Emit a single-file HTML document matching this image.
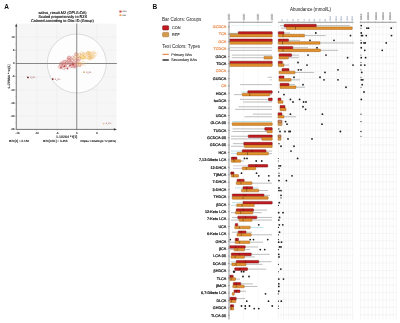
<!DOCTYPE html>
<html><head><meta charset="utf-8"><style>
html,body{margin:0;padding:0;background:#fff;width:400px;height:323px;overflow:hidden}
svg{display:block;will-change:transform;text-rendering:geometricPrecision;filter:blur(0.3px)}
</style></head><body>
<svg width='400' height='323' viewBox='0 0 400 323' font-family="'Liberation Sans', sans-serif">
<rect width='400' height='323' fill='#fff'/>
<line x1='278.25' y1='22.25' x2='278.25' y2='319.5' stroke='#e9e9e9' stroke-width='0.5'/><line x1='280.90' y1='22.25' x2='280.90' y2='319.5' stroke='#f2f2f2' stroke-width='0.5'/><line x1='283.55' y1='22.25' x2='283.55' y2='319.5' stroke='#e9e9e9' stroke-width='0.5'/><line x1='286.20' y1='22.25' x2='286.20' y2='319.5' stroke='#f2f2f2' stroke-width='0.5'/><line x1='288.85' y1='22.25' x2='288.85' y2='319.5' stroke='#e9e9e9' stroke-width='0.5'/><line x1='291.50' y1='22.25' x2='291.50' y2='319.5' stroke='#f2f2f2' stroke-width='0.5'/><line x1='294.15' y1='22.25' x2='294.15' y2='319.5' stroke='#e9e9e9' stroke-width='0.5'/><line x1='296.80' y1='22.25' x2='296.80' y2='319.5' stroke='#f2f2f2' stroke-width='0.5'/><line x1='299.45' y1='22.25' x2='299.45' y2='319.5' stroke='#e9e9e9' stroke-width='0.5'/><line x1='302.10' y1='22.25' x2='302.10' y2='319.5' stroke='#f2f2f2' stroke-width='0.5'/><line x1='304.75' y1='22.25' x2='304.75' y2='319.5' stroke='#e9e9e9' stroke-width='0.5'/><line x1='307.40' y1='22.25' x2='307.40' y2='319.5' stroke='#f2f2f2' stroke-width='0.5'/><line x1='310.05' y1='22.25' x2='310.05' y2='319.5' stroke='#e9e9e9' stroke-width='0.5'/><line x1='312.70' y1='22.25' x2='312.70' y2='319.5' stroke='#f2f2f2' stroke-width='0.5'/><line x1='315.35' y1='22.25' x2='315.35' y2='319.5' stroke='#e9e9e9' stroke-width='0.5'/><line x1='318.00' y1='22.25' x2='318.00' y2='319.5' stroke='#f2f2f2' stroke-width='0.5'/><line x1='320.65' y1='22.25' x2='320.65' y2='319.5' stroke='#e9e9e9' stroke-width='0.5'/><line x1='323.30' y1='22.25' x2='323.30' y2='319.5' stroke='#f2f2f2' stroke-width='0.5'/><line x1='325.95' y1='22.25' x2='325.95' y2='319.5' stroke='#e9e9e9' stroke-width='0.5'/><line x1='328.60' y1='22.25' x2='328.60' y2='319.5' stroke='#f2f2f2' stroke-width='0.5'/><line x1='331.25' y1='22.25' x2='331.25' y2='319.5' stroke='#e9e9e9' stroke-width='0.5'/><line x1='333.90' y1='22.25' x2='333.90' y2='319.5' stroke='#f2f2f2' stroke-width='0.5'/><line x1='336.55' y1='22.25' x2='336.55' y2='319.5' stroke='#e9e9e9' stroke-width='0.5'/><line x1='339.20' y1='22.25' x2='339.20' y2='319.5' stroke='#f2f2f2' stroke-width='0.5'/><line x1='341.85' y1='22.25' x2='341.85' y2='319.5' stroke='#e9e9e9' stroke-width='0.5'/><line x1='344.50' y1='22.25' x2='344.50' y2='319.5' stroke='#f2f2f2' stroke-width='0.5'/><line x1='347.15' y1='22.25' x2='347.15' y2='319.5' stroke='#e9e9e9' stroke-width='0.5'/><line x1='349.80' y1='22.25' x2='349.80' y2='319.5' stroke='#f2f2f2' stroke-width='0.5'/><line x1='352.45' y1='22.25' x2='352.45' y2='319.5' stroke='#e9e9e9' stroke-width='0.5'/><line x1='360.6' y1='22.25' x2='360.6' y2='319.5' stroke='#ececec' stroke-width='0.5'/><line x1='364.35' y1='22.25' x2='364.35' y2='319.5' stroke='#ececec' stroke-width='0.5'/><line x1='368.1' y1='22.25' x2='368.1' y2='319.5' stroke='#ececec' stroke-width='0.5'/><line x1='371.85' y1='22.25' x2='371.85' y2='319.5' stroke='#ececec' stroke-width='0.5'/><line x1='375.6' y1='22.25' x2='375.6' y2='319.5' stroke='#ececec' stroke-width='0.5'/><line x1='379.2' y1='22.25' x2='379.2' y2='319.5' stroke='#ececec' stroke-width='0.5'/><line x1='382.75' y1='22.25' x2='382.75' y2='319.5' stroke='#ececec' stroke-width='0.5'/><line x1='386.4' y1='22.25' x2='386.4' y2='319.5' stroke='#ececec' stroke-width='0.5'/><line x1='390' y1='22.25' x2='390' y2='319.5' stroke='#ececec' stroke-width='0.5'/><line x1='393.3' y1='22.25' x2='393.3' y2='319.5' stroke='#ececec' stroke-width='0.5'/><line x1='396.5' y1='22.25' x2='396.5' y2='319.5' stroke='#ececec' stroke-width='0.5'/><line x1='243.5' y1='22.25' x2='243.5' y2='319.5' stroke='#f1f1f1' stroke-width='0.5'/><line x1='257.9' y1='22.25' x2='257.9' y2='319.5' stroke='#f1f1f1' stroke-width='0.5'/><line x1='278.25' y1='26.90' x2='353.5' y2='26.90' stroke='#ececec' stroke-width='0.5'/><line x1='359.75' y1='26.90' x2='396.5' y2='26.90' stroke='#ececec' stroke-width='0.5'/><line x1='278.25' y1='34.28' x2='353.5' y2='34.28' stroke='#ececec' stroke-width='0.5'/><line x1='359.75' y1='34.28' x2='396.5' y2='34.28' stroke='#ececec' stroke-width='0.5'/><line x1='278.25' y1='41.66' x2='353.5' y2='41.66' stroke='#ececec' stroke-width='0.5'/><line x1='359.75' y1='41.66' x2='396.5' y2='41.66' stroke='#ececec' stroke-width='0.5'/><line x1='278.25' y1='49.04' x2='353.5' y2='49.04' stroke='#ececec' stroke-width='0.5'/><line x1='359.75' y1='49.04' x2='396.5' y2='49.04' stroke='#ececec' stroke-width='0.5'/><line x1='278.25' y1='56.42' x2='353.5' y2='56.42' stroke='#ececec' stroke-width='0.5'/><line x1='359.75' y1='56.42' x2='396.5' y2='56.42' stroke='#ececec' stroke-width='0.5'/><line x1='278.25' y1='63.79' x2='353.5' y2='63.79' stroke='#ececec' stroke-width='0.5'/><line x1='359.75' y1='63.79' x2='396.5' y2='63.79' stroke='#ececec' stroke-width='0.5'/><line x1='278.25' y1='71.17' x2='353.5' y2='71.17' stroke='#ececec' stroke-width='0.5'/><line x1='359.75' y1='71.17' x2='396.5' y2='71.17' stroke='#ececec' stroke-width='0.5'/><line x1='278.25' y1='78.55' x2='353.5' y2='78.55' stroke='#ececec' stroke-width='0.5'/><line x1='359.75' y1='78.55' x2='396.5' y2='78.55' stroke='#ececec' stroke-width='0.5'/><line x1='278.25' y1='85.93' x2='353.5' y2='85.93' stroke='#ececec' stroke-width='0.5'/><line x1='359.75' y1='85.93' x2='396.5' y2='85.93' stroke='#ececec' stroke-width='0.5'/><line x1='278.25' y1='93.31' x2='353.5' y2='93.31' stroke='#ececec' stroke-width='0.5'/><line x1='359.75' y1='93.31' x2='396.5' y2='93.31' stroke='#ececec' stroke-width='0.5'/><line x1='278.25' y1='100.69' x2='353.5' y2='100.69' stroke='#ececec' stroke-width='0.5'/><line x1='359.75' y1='100.69' x2='396.5' y2='100.69' stroke='#ececec' stroke-width='0.5'/><line x1='278.25' y1='108.07' x2='353.5' y2='108.07' stroke='#ececec' stroke-width='0.5'/><line x1='359.75' y1='108.07' x2='396.5' y2='108.07' stroke='#ececec' stroke-width='0.5'/><line x1='278.25' y1='115.45' x2='353.5' y2='115.45' stroke='#ececec' stroke-width='0.5'/><line x1='359.75' y1='115.45' x2='396.5' y2='115.45' stroke='#ececec' stroke-width='0.5'/><line x1='278.25' y1='122.83' x2='353.5' y2='122.83' stroke='#ececec' stroke-width='0.5'/><line x1='359.75' y1='122.83' x2='396.5' y2='122.83' stroke='#ececec' stroke-width='0.5'/><line x1='278.25' y1='130.21' x2='353.5' y2='130.21' stroke='#ececec' stroke-width='0.5'/><line x1='359.75' y1='130.21' x2='396.5' y2='130.21' stroke='#ececec' stroke-width='0.5'/><line x1='278.25' y1='137.58' x2='353.5' y2='137.58' stroke='#ececec' stroke-width='0.5'/><line x1='359.75' y1='137.58' x2='396.5' y2='137.58' stroke='#ececec' stroke-width='0.5'/><line x1='278.25' y1='144.96' x2='353.5' y2='144.96' stroke='#ececec' stroke-width='0.5'/><line x1='359.75' y1='144.96' x2='396.5' y2='144.96' stroke='#ececec' stroke-width='0.5'/><line x1='278.25' y1='152.34' x2='353.5' y2='152.34' stroke='#ececec' stroke-width='0.5'/><line x1='359.75' y1='152.34' x2='396.5' y2='152.34' stroke='#ececec' stroke-width='0.5'/><line x1='278.25' y1='159.72' x2='353.5' y2='159.72' stroke='#ececec' stroke-width='0.5'/><line x1='359.75' y1='159.72' x2='396.5' y2='159.72' stroke='#ececec' stroke-width='0.5'/><line x1='278.25' y1='167.10' x2='353.5' y2='167.10' stroke='#ececec' stroke-width='0.5'/><line x1='359.75' y1='167.10' x2='396.5' y2='167.10' stroke='#ececec' stroke-width='0.5'/><line x1='278.25' y1='174.48' x2='353.5' y2='174.48' stroke='#ececec' stroke-width='0.5'/><line x1='359.75' y1='174.48' x2='396.5' y2='174.48' stroke='#ececec' stroke-width='0.5'/><line x1='278.25' y1='181.86' x2='353.5' y2='181.86' stroke='#ececec' stroke-width='0.5'/><line x1='359.75' y1='181.86' x2='396.5' y2='181.86' stroke='#ececec' stroke-width='0.5'/><line x1='278.25' y1='189.24' x2='353.5' y2='189.24' stroke='#ececec' stroke-width='0.5'/><line x1='359.75' y1='189.24' x2='396.5' y2='189.24' stroke='#ececec' stroke-width='0.5'/><line x1='278.25' y1='196.62' x2='353.5' y2='196.62' stroke='#ececec' stroke-width='0.5'/><line x1='359.75' y1='196.62' x2='396.5' y2='196.62' stroke='#ececec' stroke-width='0.5'/><line x1='278.25' y1='204.00' x2='353.5' y2='204.00' stroke='#ececec' stroke-width='0.5'/><line x1='359.75' y1='204.00' x2='396.5' y2='204.00' stroke='#ececec' stroke-width='0.5'/><line x1='278.25' y1='211.38' x2='353.5' y2='211.38' stroke='#ececec' stroke-width='0.5'/><line x1='359.75' y1='211.38' x2='396.5' y2='211.38' stroke='#ececec' stroke-width='0.5'/><line x1='278.25' y1='218.75' x2='353.5' y2='218.75' stroke='#ececec' stroke-width='0.5'/><line x1='359.75' y1='218.75' x2='396.5' y2='218.75' stroke='#ececec' stroke-width='0.5'/><line x1='278.25' y1='226.13' x2='353.5' y2='226.13' stroke='#ececec' stroke-width='0.5'/><line x1='359.75' y1='226.13' x2='396.5' y2='226.13' stroke='#ececec' stroke-width='0.5'/><line x1='278.25' y1='233.51' x2='353.5' y2='233.51' stroke='#ececec' stroke-width='0.5'/><line x1='359.75' y1='233.51' x2='396.5' y2='233.51' stroke='#ececec' stroke-width='0.5'/><line x1='278.25' y1='240.89' x2='353.5' y2='240.89' stroke='#ececec' stroke-width='0.5'/><line x1='359.75' y1='240.89' x2='396.5' y2='240.89' stroke='#ececec' stroke-width='0.5'/><line x1='278.25' y1='248.27' x2='353.5' y2='248.27' stroke='#ececec' stroke-width='0.5'/><line x1='359.75' y1='248.27' x2='396.5' y2='248.27' stroke='#ececec' stroke-width='0.5'/><line x1='278.25' y1='255.65' x2='353.5' y2='255.65' stroke='#ececec' stroke-width='0.5'/><line x1='359.75' y1='255.65' x2='396.5' y2='255.65' stroke='#ececec' stroke-width='0.5'/><line x1='278.25' y1='263.03' x2='353.5' y2='263.03' stroke='#ececec' stroke-width='0.5'/><line x1='359.75' y1='263.03' x2='396.5' y2='263.03' stroke='#ececec' stroke-width='0.5'/><line x1='278.25' y1='270.41' x2='353.5' y2='270.41' stroke='#ececec' stroke-width='0.5'/><line x1='359.75' y1='270.41' x2='396.5' y2='270.41' stroke='#ececec' stroke-width='0.5'/><line x1='278.25' y1='277.79' x2='353.5' y2='277.79' stroke='#ececec' stroke-width='0.5'/><line x1='359.75' y1='277.79' x2='396.5' y2='277.79' stroke='#ececec' stroke-width='0.5'/><line x1='278.25' y1='285.16' x2='353.5' y2='285.16' stroke='#ececec' stroke-width='0.5'/><line x1='359.75' y1='285.16' x2='396.5' y2='285.16' stroke='#ececec' stroke-width='0.5'/><line x1='278.25' y1='292.54' x2='353.5' y2='292.54' stroke='#ececec' stroke-width='0.5'/><line x1='359.75' y1='292.54' x2='396.5' y2='292.54' stroke='#ececec' stroke-width='0.5'/><line x1='278.25' y1='299.92' x2='353.5' y2='299.92' stroke='#ececec' stroke-width='0.5'/><line x1='359.75' y1='299.92' x2='396.5' y2='299.92' stroke='#ececec' stroke-width='0.5'/><line x1='278.25' y1='307.30' x2='353.5' y2='307.30' stroke='#ececec' stroke-width='0.5'/><line x1='359.75' y1='307.30' x2='396.5' y2='307.30' stroke='#ececec' stroke-width='0.5'/><line x1='278.25' y1='314.68' x2='353.5' y2='314.68' stroke='#ececec' stroke-width='0.5'/><line x1='359.75' y1='314.68' x2='396.5' y2='314.68' stroke='#ececec' stroke-width='0.5'/>
<line x1='231' y1='25.60' x2='272' y2='25.60' stroke='#a9d5e2' stroke-width='0.3'/>
<line x1='280' y1='25.60' x2='284.2' y2='25.60' stroke='#a8a8a8' stroke-width='0.75'/>
<line x1='316.3' y1='25.60' x2='349.75' y2='25.60' stroke='#a8a8a8' stroke-width='0.75'/>
<line x1='281' y1='28.20' x2='286.5' y2='28.20' stroke='#a8a8a8' stroke-width='0.75'/>
<rect x='284.2' y='24.30' width='32.10' height='2.6' rx='0.4' fill='#c41b20' stroke='#6a0e0e' stroke-width='0.45'/>
<rect x='286.5' y='26.90' width='65.75' height='2.6' rx='0.4' fill='#e2922f' stroke='#9a5a14' stroke-width='0.45'/>
<line x1='295.5' y1='26.90' x2='295.5' y2='29.50' stroke='#3a2a10' stroke-width='0.5'/>
<circle cx='361.25' cy='25.60' r='0.9' fill='#1e1e1e'/>
<circle cx='361' cy='28.20' r='0.5' fill='#1e1e1e'/>
<circle cx='366.9' cy='28.20' r='0.9' fill='#1e1e1e'/>
<circle cx='368.5' cy='28.20' r='0.9' fill='#1e1e1e'/>
<circle cx='391.25' cy='28.20' r='0.9' fill='#1e1e1e'/>
<line x1='229.5' y1='32.98' x2='238.2' y2='32.98' stroke='#bfe0ea' stroke-width='0.5'/>
<line x1='284' y1='32.98' x2='290' y2='32.98' stroke='#a8a8a8' stroke-width='0.75'/>
<line x1='304.5' y1='35.58' x2='325.5' y2='35.58' stroke='#a8a8a8' stroke-width='0.75'/>
<rect x='238.2' y='31.68' width='34.05' height='2.6' rx='0.4' fill='#c41b20' stroke='#6a0e0e' stroke-width='0.45'/>
<rect x='230' y='34.28' width='42.25' height='2.6' rx='0.4' fill='#e2922f' stroke='#9a5a14' stroke-width='0.45'/>
<rect x='278.25' y='31.68' width='5.75' height='2.6' rx='0.4' fill='#c41b20' stroke='#6a0e0e' stroke-width='0.45'/>
<rect x='278.25' y='34.28' width='26.25' height='2.6' rx='0.4' fill='#e2922f' stroke='#9a5a14' stroke-width='0.45'/>
<rect x='229.5' y='33.18' width='8.70' height='1.6' fill='#c9a66e' stroke='#9a7a40' stroke-width='0.3'/>
<circle cx='315.8' cy='32.98' r='0.9' fill='#1e1e1e'/>
<line x1='283' y1='34.28' x2='283' y2='36.88' stroke='#3a2a10' stroke-width='0.5'/>
<circle cx='350.5' cy='35.58' r='0.9' fill='#1e1e1e'/>
<circle cx='361.25' cy='32.98' r='0.9' fill='#1e1e1e'/>
<circle cx='361.5' cy='35.58' r='0.9' fill='#1e1e1e'/>
<circle cx='362.5' cy='35.58' r='0.9' fill='#1e1e1e'/>
<circle cx='366.25' cy='35.58' r='0.9' fill='#1e1e1e'/>
<circle cx='391.5' cy='35.58' r='0.9' fill='#1e1e1e'/>
<line x1='288.5' y1='40.36' x2='300' y2='40.36' stroke='#a8a8a8' stroke-width='0.75'/>
<line x1='320' y1='42.96' x2='354' y2='42.96' stroke='#a8a8a8' stroke-width='0.75'/>
<rect x='229.5' y='39.06' width='42.75' height='2.6' rx='0.4' fill='#c41b20' stroke='#6a0e0e' stroke-width='0.45'/>
<rect x='229.5' y='41.66' width='42.75' height='2.6' rx='0.4' fill='#e2922f' stroke='#9a5a14' stroke-width='0.45'/>
<rect x='278.25' y='39.06' width='10.25' height='2.6' rx='0.4' fill='#c41b20' stroke='#6a0e0e' stroke-width='0.45'/>
<rect x='278.25' y='41.66' width='41.75' height='2.6' rx='0.4' fill='#e2922f' stroke='#9a5a14' stroke-width='0.45'/>
<circle cx='310' cy='40.36' r='0.9' fill='#1e1e1e'/>
<circle cx='334' cy='40.36' r='0.9' fill='#1e1e1e'/>
<line x1='282.5' y1='41.66' x2='282.5' y2='44.26' stroke='#3a2a10' stroke-width='0.5'/>
<circle cx='361' cy='40.36' r='0.5' fill='#1e1e1e'/>
<circle cx='361.25' cy='42.96' r='0.9' fill='#1e1e1e'/>
<circle cx='364' cy='42.96' r='0.9' fill='#1e1e1e'/>
<circle cx='365.25' cy='42.96' r='0.9' fill='#1e1e1e'/>
<circle cx='386.25' cy='42.96' r='0.9' fill='#1e1e1e'/>
<line x1='229.5' y1='47.74' x2='272' y2='47.74' stroke='#a8a8a8' stroke-width='0.75'/>
<line x1='229.5' y1='50.34' x2='272' y2='50.34' stroke='#a8a8a8' stroke-width='0.75'/>
<line x1='292.8' y1='47.74' x2='308' y2='47.74' stroke='#a8a8a8' stroke-width='0.75'/>
<line x1='320.5' y1='50.34' x2='338' y2='50.34' stroke='#a8a8a8' stroke-width='0.75'/>
<rect x='278.25' y='46.44' width='14.55' height='2.6' rx='0.4' fill='#c41b20' stroke='#6a0e0e' stroke-width='0.45'/>
<rect x='278.25' y='49.04' width='42.25' height='2.6' rx='0.4' fill='#e2922f' stroke='#9a5a14' stroke-width='0.45'/>
<circle cx='317' cy='47.74' r='0.9' fill='#1e1e1e'/>
<line x1='283' y1='49.04' x2='283' y2='51.64' stroke='#3a2a10' stroke-width='0.5'/>
<circle cx='361.25' cy='47.74' r='0.9' fill='#1e1e1e'/>
<circle cx='364.75' cy='50.34' r='0.9' fill='#1e1e1e'/>
<circle cx='382.25' cy='50.34' r='0.9' fill='#1e1e1e'/>
<line x1='231.75' y1='55.12' x2='272' y2='55.12' stroke='#a8a8a8' stroke-width='0.75'/>
<line x1='231.75' y1='57.72' x2='264' y2='57.72' stroke='#a8a8a8' stroke-width='0.75'/>
<line x1='291.6' y1='55.12' x2='299' y2='55.12' stroke='#a8a8a8' stroke-width='0.75'/>
<line x1='288.4' y1='57.72' x2='299' y2='57.72' stroke='#a8a8a8' stroke-width='0.75'/>
<rect x='264' y='56.42' width='8.25' height='2.6' rx='0.4' fill='#e2922f' stroke='#9a5a14' stroke-width='0.45'/>
<rect x='279' y='53.82' width='12.60' height='2.6' rx='0.4' fill='#c41b20' stroke='#6a0e0e' stroke-width='0.45'/>
<rect x='279' y='56.42' width='9.40' height='2.6' rx='0.4' fill='#e2922f' stroke='#9a5a14' stroke-width='0.45'/>
<circle cx='308' cy='55.12' r='0.9' fill='#1e1e1e'/>
<circle cx='326' cy='55.12' r='0.9' fill='#1e1e1e'/>
<circle cx='347.6' cy='57.72' r='0.9' fill='#1e1e1e'/>
<circle cx='361' cy='55.12' r='0.5' fill='#1e1e1e'/>
<circle cx='361.25' cy='57.72' r='0.9' fill='#1e1e1e'/>
<circle cx='365.6' cy='57.72' r='0.9' fill='#1e1e1e'/>
<line x1='284' y1='65.09' x2='289' y2='65.09' stroke='#a8a8a8' stroke-width='0.75'/>
<rect x='229.5' y='61.19' width='42.75' height='2.6' rx='0.4' fill='#c41b20' stroke='#6a0e0e' stroke-width='0.45'/>
<rect x='229.5' y='63.79' width='42.75' height='2.6' rx='0.4' fill='#e2922f' stroke='#9a5a14' stroke-width='0.45'/>
<rect x='278.25' y='61.19' width='4.15' height='2.6' rx='0.4' fill='#c41b20' stroke='#6a0e0e' stroke-width='0.45'/>
<rect x='278.25' y='63.79' width='5.75' height='2.6' rx='0.4' fill='#e2922f' stroke='#9a5a14' stroke-width='0.45'/>
<circle cx='298' cy='62.49' r='0.9' fill='#1e1e1e'/>
<circle cx='307' cy='65.09' r='0.9' fill='#1e1e1e'/>
<circle cx='353' cy='65.09' r='0.9' fill='#1e1e1e'/>
<circle cx='361' cy='62.49' r='0.5' fill='#1e1e1e'/>
<circle cx='361' cy='65.09' r='0.9' fill='#1e1e1e'/>
<circle cx='364.75' cy='65.09' r='0.9' fill='#1e1e1e'/>
<line x1='295' y1='72.47' x2='314' y2='72.47' stroke='#a8a8a8' stroke-width='0.75'/>
<rect x='282' y='68.57' width='7.00' height='2.6' rx='0.4' fill='#c41b20' stroke='#6a0e0e' stroke-width='0.45'/>
<rect x='279' y='71.17' width='16.00' height='2.6' rx='0.4' fill='#e2922f' stroke='#9a5a14' stroke-width='0.45'/>
<circle cx='298.4' cy='69.87' r='0.9' fill='#1e1e1e'/>
<circle cx='301' cy='69.87' r='0.9' fill='#1e1e1e'/>
<circle cx='338' cy='69.87' r='0.9' fill='#1e1e1e'/>
<circle cx='325' cy='72.47' r='0.9' fill='#1e1e1e'/>
<circle cx='361' cy='69.87' r='0.5' fill='#1e1e1e'/>
<circle cx='361.75' cy='72.47' r='0.9' fill='#1e1e1e'/>
<line x1='267.75' y1='77.25' x2='272' y2='77.25' stroke='#a8a8a8' stroke-width='0.75'/>
<line x1='270' y1='79.85' x2='272' y2='79.85' stroke='#c9bcd9' stroke-width='0.75'/>
<line x1='291' y1='79.85' x2='300' y2='79.85' stroke='#a8a8a8' stroke-width='0.75'/>
<rect x='279' y='75.95' width='5.00' height='2.6' rx='0.4' fill='#c41b20' stroke='#6a0e0e' stroke-width='0.45'/>
<rect x='279' y='78.55' width='12.00' height='2.6' rx='0.4' fill='#e2922f' stroke='#9a5a14' stroke-width='0.45'/>
<circle cx='294' cy='77.25' r='0.9' fill='#1e1e1e'/>
<circle cx='320' cy='77.25' r='0.9' fill='#1e1e1e'/>
<circle cx='324' cy='79.85' r='0.9' fill='#1e1e1e'/>
<circle cx='338' cy='79.85' r='0.9' fill='#1e1e1e'/>
<circle cx='361' cy='77.25' r='0.5' fill='#1e1e1e'/>
<circle cx='361.3' cy='79.85' r='0.9' fill='#1e1e1e'/>
<circle cx='362.8' cy='79.85' r='0.9' fill='#1e1e1e'/>
<line x1='240' y1='84.63' x2='272' y2='84.63' stroke='#a8a8a8' stroke-width='0.75'/>
<line x1='289' y1='84.63' x2='295' y2='84.63' stroke='#a8a8a8' stroke-width='0.75'/>
<line x1='296' y1='87.23' x2='305' y2='87.23' stroke='#a8a8a8' stroke-width='0.75'/>
<rect x='280' y='83.33' width='9.00' height='2.6' rx='0.4' fill='#c41b20' stroke='#6a0e0e' stroke-width='0.45'/>
<rect x='280' y='85.93' width='16.00' height='2.6' rx='0.4' fill='#e2922f' stroke='#9a5a14' stroke-width='0.45'/>
<circle cx='303' cy='84.63' r='0.9' fill='#1e1e1e'/>
<circle cx='346' cy='87.23' r='0.9' fill='#1e1e1e'/>
<circle cx='362.2' cy='84.63' r='0.9' fill='#1e1e1e'/>
<circle cx='361' cy='87.23' r='0.5' fill='#1e1e1e'/>
<line x1='240.75' y1='92.01' x2='247.8' y2='92.01' stroke='#a9d5e2' stroke-width='0.75'/>
<line x1='234' y1='94.61' x2='242.25' y2='94.61' stroke='#a8a8a8' stroke-width='0.75'/>
<line x1='269.7' y1='94.61' x2='272' y2='94.61' stroke='#a8a8a8' stroke-width='0.75'/>
<rect x='247.8' y='90.71' width='24.45' height='2.6' rx='0.4' fill='#c41b20' stroke='#6a0e0e' stroke-width='0.45'/>
<rect x='242.25' y='93.31' width='27.45' height='2.6' rx='0.4' fill='#e2922f' stroke='#9a5a14' stroke-width='0.45'/>
<line x1='249.75' y1='93.31' x2='249.75' y2='95.91' stroke='#3a2a10' stroke-width='0.5'/>
<circle cx='278.6' cy='92.01' r='0.7' fill='#1e1e1e'/>
<circle cx='284' cy='94.61' r='0.9' fill='#1e1e1e'/>
<circle cx='364' cy='92.01' r='0.9' fill='#1e1e1e'/>
<line x1='240' y1='99.39' x2='268.5' y2='99.39' stroke='#a8a8a8' stroke-width='0.75'/>
<line x1='243' y1='101.99' x2='272' y2='101.99' stroke='#a8a8a8' stroke-width='0.75'/>
<rect x='268.5' y='98.09' width='3.75' height='2.6' rx='0.4' fill='#c41b20' stroke='#6a0e0e' stroke-width='0.45'/>
<rect x='278' y='98.09' width='3.00' height='2.6' rx='0.4' fill='#c41b20' stroke='#6a0e0e' stroke-width='0.45'/>
<rect x='278' y='100.69' width='5.00' height='2.6' rx='0.4' fill='#e2922f' stroke='#9a5a14' stroke-width='0.45'/>
<circle cx='290.4' cy='99.39' r='0.9' fill='#1e1e1e'/>
<circle cx='299.6' cy='99.39' r='0.9' fill='#1e1e1e'/>
<circle cx='293' cy='101.99' r='0.9' fill='#1e1e1e'/>
<circle cx='303.6' cy='101.99' r='0.9' fill='#1e1e1e'/>
<circle cx='306' cy='101.99' r='0.9' fill='#1e1e1e'/>
<circle cx='361.3' cy='99.39' r='0.9' fill='#1e1e1e'/>
<line x1='238.5' y1='106.77' x2='272' y2='106.77' stroke='#a8a8a8' stroke-width='0.75'/>
<line x1='235' y1='109.37' x2='272' y2='109.37' stroke='#a8a8a8' stroke-width='0.75'/>
<rect x='280' y='105.47' width='5.00' height='2.6' rx='0.4' fill='#c41b20' stroke='#6a0e0e' stroke-width='0.45'/>
<rect x='280' y='108.07' width='6.00' height='2.6' rx='0.4' fill='#e2922f' stroke='#9a5a14' stroke-width='0.45'/>
<circle cx='303' cy='106.77' r='0.9' fill='#1e1e1e'/>
<circle cx='305.6' cy='109.37' r='0.9' fill='#1e1e1e'/>
<line x1='252.75' y1='114.15' x2='272' y2='114.15' stroke='#a8a8a8' stroke-width='0.75'/>
<line x1='244.5' y1='116.75' x2='272' y2='116.75' stroke='#a8a8a8' stroke-width='0.75'/>
<line x1='284' y1='116.75' x2='296' y2='116.75' stroke='#a8a8a8' stroke-width='0.75'/>
<rect x='278' y='112.85' width='4.00' height='2.6' rx='0.4' fill='#c41b20' stroke='#6a0e0e' stroke-width='0.45'/>
<rect x='278' y='115.45' width='6.00' height='2.6' rx='0.4' fill='#e2922f' stroke='#9a5a14' stroke-width='0.45'/>
<circle cx='290.4' cy='114.15' r='0.9' fill='#1e1e1e'/>
<circle cx='322.4' cy='114.15' r='0.9' fill='#1e1e1e'/>
<circle cx='361' cy='114.15' r='0.6' fill='#1e1e1e'/>
<line x1='232' y1='121.53' x2='272' y2='121.53' stroke='#a9d5e2' stroke-width='0.75'/>
<rect x='232.2' y='122.83' width='40.05' height='2.6' rx='0.4' fill='#e2922f' stroke='#9a5a14' stroke-width='0.45'/>
<rect x='278' y='120.23' width='4.00' height='2.6' rx='0.4' fill='#c8925a' stroke='#6a0e0e' stroke-width='0.45'/>
<rect x='278' y='122.83' width='4.00' height='2.6' rx='0.4' fill='#d8a060' stroke='#9a5a14' stroke-width='0.45'/>
<circle cx='285.6' cy='121.53' r='0.9' fill='#1e1e1e'/>
<circle cx='287' cy='124.13' r='0.9' fill='#1e1e1e'/>
<circle cx='322' cy='124.13' r='0.9' fill='#1e1e1e'/>
<circle cx='361' cy='121.53' r='0.6' fill='#1e1e1e'/>
<line x1='232.5' y1='128.91' x2='264.75' y2='128.91' stroke='#a8a8a8' stroke-width='0.75'/>
<line x1='232.5' y1='131.51' x2='267' y2='131.51' stroke='#a8a8a8' stroke-width='0.75'/>
<rect x='264.75' y='127.61' width='7.50' height='2.6' rx='0.4' fill='#c41b20' stroke='#6a0e0e' stroke-width='0.45'/>
<rect x='267' y='130.21' width='5.25' height='2.6' rx='0.4' fill='#e2922f' stroke='#9a5a14' stroke-width='0.45'/>
<circle cx='278.8' cy='128.91' r='0.7' fill='#1e1e1e'/>
<circle cx='280' cy='131.51' r='0.9' fill='#1e1e1e'/>
<circle cx='285' cy='131.51' r='0.9' fill='#1e1e1e'/>
<circle cx='289' cy='131.51' r='0.9' fill='#1e1e1e'/>
<circle cx='290.2' cy='131.51' r='0.9' fill='#1e1e1e'/>
<circle cx='340.4' cy='131.51' r='0.9' fill='#1e1e1e'/>
<circle cx='361' cy='131.51' r='0.7' fill='#1e1e1e'/>
<line x1='231' y1='136.28' x2='248.25' y2='136.28' stroke='#a8a8a8' stroke-width='0.75'/>
<line x1='231' y1='138.88' x2='261.75' y2='138.88' stroke='#a8a8a8' stroke-width='0.75'/>
<rect x='248.25' y='134.98' width='24.00' height='2.6' rx='0.4' fill='#c41b20' stroke='#6a0e0e' stroke-width='0.45'/>
<rect x='261.75' y='137.58' width='10.50' height='2.6' rx='0.4' fill='#e2922f' stroke='#9a5a14' stroke-width='0.45'/>
<rect x='278' y='134.98' width='3.00' height='2.6' rx='0.4' fill='#c8925a' stroke='#6a0e0e' stroke-width='0.45'/>
<rect x='278' y='137.58' width='3.00' height='2.6' rx='0.4' fill='#d8a060' stroke='#9a5a14' stroke-width='0.45'/>
<circle cx='288' cy='138.88' r='0.9' fill='#1e1e1e'/>
<circle cx='312' cy='138.88' r='0.9' fill='#1e1e1e'/>
<circle cx='361' cy='136.28' r='0.5' fill='#1e1e1e'/>
<line x1='233' y1='143.66' x2='243.75' y2='143.66' stroke='#a8a8a8' stroke-width='0.75'/>
<line x1='231' y1='146.26' x2='244.5' y2='146.26' stroke='#a8a8a8' stroke-width='0.75'/>
<rect x='243.75' y='142.36' width='28.50' height='2.6' rx='0.4' fill='#c41b20' stroke='#6a0e0e' stroke-width='0.45'/>
<rect x='244.5' y='144.96' width='27.75' height='2.6' rx='0.4' fill='#e2922f' stroke='#9a5a14' stroke-width='0.45'/>
<circle cx='279' cy='143.66' r='0.7' fill='#1e1e1e'/>
<circle cx='281' cy='146.26' r='0.9' fill='#1e1e1e'/>
<circle cx='294' cy='146.26' r='0.9' fill='#1e1e1e'/>
<line x1='231' y1='151.04' x2='242.25' y2='151.04' stroke='#a9d5e2' stroke-width='0.75'/>
<line x1='266' y1='151.04' x2='272' y2='151.04' stroke='#a8a8a8' stroke-width='0.75'/>
<line x1='231' y1='153.64' x2='237' y2='153.64' stroke='#a9d5e2' stroke-width='0.75'/>
<line x1='268.5' y1='153.64' x2='272' y2='153.64' stroke='#a8a8a8' stroke-width='0.75'/>
<rect x='242.25' y='149.74' width='23.75' height='2.6' rx='0.4' fill='#c41b20' stroke='#6a0e0e' stroke-width='0.45'/>
<line x1='251.75' y1='149.94' x2='251.75' y2='152.14' stroke='#4a0808' stroke-width='0.5'/>
<rect x='237' y='152.34' width='31.50' height='2.6' rx='0.4' fill='#e2922f' stroke='#9a5a14' stroke-width='0.45'/>
<line x1='247.5' y1='152.34' x2='247.5' y2='154.94' stroke='#3a2a10' stroke-width='0.5'/>
<circle cx='291' cy='151.04' r='0.9' fill='#1e1e1e'/>
<line x1='240.75' y1='161.02' x2='243.75' y2='161.02' stroke='#a8a8a8' stroke-width='0.75'/>
<rect x='231.3' y='157.12' width='5.70' height='2.6' rx='0.4' fill='#c41b20' stroke='#6a0e0e' stroke-width='0.45'/>
<line x1='233.58' y1='157.32' x2='233.58' y2='159.52' stroke='#4a0808' stroke-width='0.5'/>
<rect x='231.3' y='159.72' width='9.45' height='2.6' rx='0.4' fill='#e2922f' stroke='#9a5a14' stroke-width='0.45'/>
<line x1='234.14' y1='159.92' x2='234.14' y2='162.12' stroke='#4a3008' stroke-width='0.5'/>
<circle cx='244.5' cy='158.42' r='0.9' fill='#1e1e1e'/>
<circle cx='247' cy='158.42' r='0.9' fill='#1e1e1e'/>
<circle cx='256.2' cy='161.02' r='0.9' fill='#1e1e1e'/>
<circle cx='261.75' cy='161.02' r='0.9' fill='#1e1e1e'/>
<circle cx='297.6' cy='158.42' r='0.9' fill='#1e1e1e'/>
<circle cx='278.3' cy='158.42' r='0.5' fill='#1e1e1e'/>
<circle cx='278.3' cy='161.02' r='0.5' fill='#1e1e1e'/>
<line x1='233' y1='165.80' x2='248.25' y2='165.80' stroke='#c9bcd9' stroke-width='0.75'/>
<line x1='233' y1='168.40' x2='242.25' y2='168.40' stroke='#c9bcd9' stroke-width='0.75'/>
<rect x='248.25' y='164.50' width='19.50' height='2.6' rx='0.4' fill='#c41b20' stroke='#6a0e0e' stroke-width='0.45'/>
<line x1='256.05' y1='164.70' x2='256.05' y2='166.90' stroke='#4a0808' stroke-width='0.5'/>
<rect x='242.25' y='167.10' width='13.50' height='2.6' rx='0.4' fill='#e2922f' stroke='#9a5a14' stroke-width='0.45'/>
<line x1='246.30' y1='167.30' x2='246.30' y2='169.50' stroke='#4a3008' stroke-width='0.5'/>
<circle cx='279' cy='165.80' r='0.9' fill='#1e1e1e'/>
<circle cx='280.5' cy='165.80' r='0.9' fill='#1e1e1e'/>
<circle cx='279' cy='168.40' r='0.6' fill='#1e1e1e'/>
<rect x='230.7' y='171.88' width='3.30' height='2.6' rx='0.4' fill='#c41b20' stroke='#6a0e0e' stroke-width='0.45'/>
<line x1='232.02' y1='172.08' x2='232.02' y2='174.28' stroke='#4a0808' stroke-width='0.5'/>
<rect x='231.3' y='174.48' width='7.20' height='2.6' rx='0.4' fill='#e2922f' stroke='#9a5a14' stroke-width='0.45'/>
<line x1='233.46' y1='174.68' x2='233.46' y2='176.88' stroke='#4a3008' stroke-width='0.5'/>
<circle cx='241.5' cy='173.18' r='0.9' fill='#1e1e1e'/>
<circle cx='256.5' cy='173.18' r='0.9' fill='#1e1e1e'/>
<circle cx='258.75' cy='175.78' r='0.9' fill='#1e1e1e'/>
<circle cx='268.8' cy='175.78' r='0.9' fill='#1e1e1e'/>
<circle cx='279' cy='173.18' r='0.6' fill='#1e1e1e'/>
<circle cx='279' cy='175.78' r='0.9' fill='#1e1e1e'/>
<circle cx='292' cy='175.78' r='0.9' fill='#1e1e1e'/>
<line x1='252' y1='183.16' x2='272' y2='183.16' stroke='#a8a8a8' stroke-width='0.75'/>
<rect x='237' y='179.26' width='7.20' height='2.6' rx='0.4' fill='#c41b20' stroke='#6a0e0e' stroke-width='0.45'/>
<line x1='239.88' y1='179.46' x2='239.88' y2='181.66' stroke='#4a0808' stroke-width='0.5'/>
<rect x='236.25' y='181.86' width='15.75' height='2.6' rx='0.4' fill='#e2922f' stroke='#9a5a14' stroke-width='0.45'/>
<line x1='240.97' y1='182.06' x2='240.97' y2='184.26' stroke='#4a3008' stroke-width='0.5'/>
<circle cx='268.8' cy='180.56' r='0.9' fill='#1e1e1e'/>
<circle cx='279' cy='180.56' r='0.9' fill='#1e1e1e'/>
<circle cx='286.4' cy='180.56' r='0.9' fill='#1e1e1e'/>
<line x1='235' y1='187.94' x2='243' y2='187.94' stroke='#a9d5e2' stroke-width='0.75'/>
<line x1='252.75' y1='187.94' x2='258' y2='187.94' stroke='#a9d5e2' stroke-width='0.75'/>
<line x1='258.75' y1='190.54' x2='268' y2='190.54' stroke='#a8a8a8' stroke-width='0.75'/>
<rect x='243' y='186.64' width='9.75' height='2.6' rx='0.4' fill='#c41b20' stroke='#6a0e0e' stroke-width='0.45'/>
<line x1='246.90' y1='186.84' x2='246.90' y2='189.04' stroke='#4a0808' stroke-width='0.5'/>
<rect x='241.5' y='189.24' width='17.25' height='2.6' rx='0.4' fill='#e2922f' stroke='#9a5a14' stroke-width='0.45'/>
<line x1='246.68' y1='189.44' x2='246.68' y2='191.64' stroke='#4a3008' stroke-width='0.5'/>
<circle cx='279' cy='187.94' r='0.9' fill='#1e1e1e'/>
<circle cx='279' cy='190.54' r='0.9' fill='#1e1e1e'/>
<circle cx='281' cy='190.54' r='0.9' fill='#1e1e1e'/>
<line x1='264' y1='195.32' x2='270' y2='195.32' stroke='#a8a8a8' stroke-width='0.75'/>
<rect x='232.2' y='194.02' width='31.80' height='2.6' rx='0.4' fill='#c41b20' stroke='#6a0e0e' stroke-width='0.45'/>
<line x1='244.92' y1='194.22' x2='244.92' y2='196.42' stroke='#4a0808' stroke-width='0.5'/>
<rect x='232.2' y='196.62' width='36.00' height='2.6' rx='0.4' fill='#e2922f' stroke='#9a5a14' stroke-width='0.45'/>
<line x1='243.00' y1='196.82' x2='243.00' y2='199.02' stroke='#4a3008' stroke-width='0.5'/>
<circle cx='281' cy='195.32' r='0.9' fill='#1e1e1e'/>
<circle cx='281' cy='197.92' r='0.6' fill='#1e1e1e'/>
<line x1='232' y1='202.70' x2='243' y2='202.70' stroke='#a9d5e2' stroke-width='0.75'/>
<line x1='231' y1='205.30' x2='236.7' y2='205.30' stroke='#a9d5e2' stroke-width='0.75'/>
<rect x='243' y='201.40' width='29.25' height='2.6' rx='0.4' fill='#c41b20' stroke='#6a0e0e' stroke-width='0.45'/>
<rect x='236.7' y='204.00' width='17.55' height='2.6' rx='0.4' fill='#e2922f' stroke='#9a5a14' stroke-width='0.45'/>
<line x1='241.97' y1='204.20' x2='241.97' y2='206.40' stroke='#4a3008' stroke-width='0.5'/>
<circle cx='279.3' cy='202.70' r='0.9' fill='#1e1e1e'/>
<circle cx='278.5' cy='205.30' r='0.6' fill='#1e1e1e'/>
<line x1='253.5' y1='210.07' x2='267' y2='210.07' stroke='#a8a8a8' stroke-width='0.75'/>
<line x1='252.75' y1='212.68' x2='261.75' y2='212.68' stroke='#a8a8a8' stroke-width='0.75'/>
<line x1='231' y1='212.68' x2='235.5' y2='212.68' stroke='#a8a8a8' stroke-width='0.75'/>
<rect x='236.25' y='208.78' width='17.25' height='2.6' rx='0.4' fill='#c41b20' stroke='#6a0e0e' stroke-width='0.45'/>
<line x1='243.15' y1='208.97' x2='243.15' y2='211.18' stroke='#4a0808' stroke-width='0.5'/>
<rect x='235.5' y='211.38' width='17.25' height='2.6' rx='0.4' fill='#e2922f' stroke='#9a5a14' stroke-width='0.45'/>
<line x1='240.68' y1='211.57' x2='240.68' y2='213.78' stroke='#4a3008' stroke-width='0.5'/>
<circle cx='278.7' cy='212.68' r='0.9' fill='#1e1e1e'/>
<circle cx='283' cy='212.68' r='0.9' fill='#1e1e1e'/>
<line x1='256.8' y1='217.45' x2='272' y2='217.45' stroke='#a8a8a8' stroke-width='0.75'/>
<line x1='232' y1='217.45' x2='237.75' y2='217.45' stroke='#a8a8a8' stroke-width='0.75'/>
<line x1='231' y1='220.05' x2='239.25' y2='220.05' stroke='#a8a8a8' stroke-width='0.75'/>
<line x1='252' y1='220.05' x2='272' y2='220.05' stroke='#a8a8a8' stroke-width='0.75'/>
<rect x='237.75' y='216.15' width='19.05' height='2.6' rx='0.4' fill='#c41b20' stroke='#6a0e0e' stroke-width='0.45'/>
<line x1='245.37' y1='216.35' x2='245.37' y2='218.55' stroke='#4a0808' stroke-width='0.5'/>
<rect x='239.25' y='218.75' width='12.75' height='2.6' rx='0.4' fill='#e2922f' stroke='#9a5a14' stroke-width='0.45'/>
<line x1='243.07' y1='218.95' x2='243.07' y2='221.15' stroke='#4a3008' stroke-width='0.5'/>
<circle cx='279.5' cy='217.45' r='0.9' fill='#1e1e1e'/>
<circle cx='278.8' cy='220.05' r='0.9' fill='#1e1e1e'/>
<line x1='250.2' y1='227.43' x2='263.25' y2='227.43' stroke='#a9d5e2' stroke-width='0.75'/>
<rect x='235.2' y='223.53' width='2.55' height='2.6' rx='0.4' fill='#c41b20' stroke='#6a0e0e' stroke-width='0.45'/>
<rect x='234.75' y='226.13' width='15.45' height='2.6' rx='0.4' fill='#e2922f' stroke='#9a5a14' stroke-width='0.45'/>
<line x1='239.38' y1='226.33' x2='239.38' y2='228.53' stroke='#4a3008' stroke-width='0.5'/>
<circle cx='258.75' cy='224.83' r='0.9' fill='#1e1e1e'/>
<circle cx='279.3' cy='224.83' r='0.9' fill='#1e1e1e'/>
<circle cx='282.8' cy='224.83' r='0.9' fill='#1e1e1e'/>
<circle cx='278.5' cy='227.43' r='0.6' fill='#1e1e1e'/>
<line x1='232' y1='232.21' x2='238.2' y2='232.21' stroke='#a8a8a8' stroke-width='0.75'/>
<line x1='246' y1='232.21' x2='252' y2='232.21' stroke='#a8a8a8' stroke-width='0.75'/>
<line x1='251.25' y1='234.81' x2='272' y2='234.81' stroke='#a8a8a8' stroke-width='0.75'/>
<rect x='238.2' y='230.91' width='7.80' height='2.6' rx='0.4' fill='#c41b20' stroke='#6a0e0e' stroke-width='0.45'/>
<line x1='241.32' y1='231.11' x2='241.32' y2='233.31' stroke='#4a0808' stroke-width='0.5'/>
<rect x='237' y='233.51' width='14.25' height='2.6' rx='0.4' fill='#e2922f' stroke='#9a5a14' stroke-width='0.45'/>
<line x1='241.28' y1='233.71' x2='241.28' y2='235.91' stroke='#4a3008' stroke-width='0.5'/>
<circle cx='279.5' cy='232.21' r='0.9' fill='#1e1e1e'/>
<circle cx='278.5' cy='234.81' r='0.6' fill='#1e1e1e'/>
<line x1='230' y1='242.19' x2='235.2' y2='242.19' stroke='#a8a8a8' stroke-width='0.75'/>
<line x1='249.75' y1='242.19' x2='263' y2='242.19' stroke='#a8a8a8' stroke-width='0.75'/>
<rect x='235.2' y='238.29' width='3.30' height='2.6' rx='0.4' fill='#c41b20' stroke='#6a0e0e' stroke-width='0.45'/>
<line x1='236.52' y1='238.49' x2='236.52' y2='240.69' stroke='#4a0808' stroke-width='0.5'/>
<rect x='235.2' y='240.89' width='14.55' height='2.6' rx='0.4' fill='#e2922f' stroke='#9a5a14' stroke-width='0.45'/>
<line x1='239.56' y1='241.09' x2='239.56' y2='243.29' stroke='#4a3008' stroke-width='0.5'/>
<circle cx='230.25' cy='239.59' r='0.9' fill='#1e1e1e'/>
<circle cx='250.2' cy='239.59' r='0.9' fill='#1e1e1e'/>
<circle cx='253.5' cy='239.59' r='0.9' fill='#1e1e1e'/>
<circle cx='267.75' cy='239.59' r='0.9' fill='#1e1e1e'/>
<circle cx='278.5' cy='239.59' r='0.6' fill='#1e1e1e'/>
<circle cx='278.7' cy='242.19' r='0.9' fill='#1e1e1e'/>
<circle cx='281.5' cy='242.19' r='0.9' fill='#1e1e1e'/>
<line x1='245.25' y1='246.97' x2='258' y2='246.97' stroke='#a8a8a8' stroke-width='0.75'/>
<line x1='230' y1='249.57' x2='234' y2='249.57' stroke='#a8a8a8' stroke-width='0.75'/>
<line x1='244.5' y1='249.57' x2='250' y2='249.57' stroke='#a8a8a8' stroke-width='0.75'/>
<rect x='229.2' y='245.67' width='16.05' height='2.6' rx='0.4' fill='#c41b20' stroke='#6a0e0e' stroke-width='0.45'/>
<line x1='235.62' y1='245.87' x2='235.62' y2='248.07' stroke='#4a0808' stroke-width='0.5'/>
<rect x='234' y='248.27' width='10.50' height='2.6' rx='0.4' fill='#e2922f' stroke='#9a5a14' stroke-width='0.45'/>
<line x1='237.15' y1='248.47' x2='237.15' y2='250.67' stroke='#4a3008' stroke-width='0.5'/>
<circle cx='260.25' cy='249.57' r='0.9' fill='#1e1e1e'/>
<circle cx='264.75' cy='249.57' r='0.9' fill='#1e1e1e'/>
<circle cx='279.5' cy='246.97' r='0.9' fill='#1e1e1e'/>
<circle cx='281' cy='246.97' r='0.9' fill='#1e1e1e'/>
<circle cx='278.5' cy='249.57' r='0.6' fill='#1e1e1e'/>
<line x1='251.25' y1='254.35' x2='269.7' y2='254.35' stroke='#a8a8a8' stroke-width='0.75'/>
<line x1='244.5' y1='256.95' x2='255' y2='256.95' stroke='#a8a8a8' stroke-width='0.75'/>
<rect x='231.3' y='253.05' width='19.95' height='2.6' rx='0.4' fill='#c41b20' stroke='#6a0e0e' stroke-width='0.45'/>
<line x1='239.28' y1='253.25' x2='239.28' y2='255.45' stroke='#4a0808' stroke-width='0.5'/>
<rect x='231' y='255.65' width='13.50' height='2.6' rx='0.4' fill='#e2922f' stroke='#9a5a14' stroke-width='0.45'/>
<line x1='235.05' y1='255.85' x2='235.05' y2='258.05' stroke='#4a3008' stroke-width='0.5'/>
<circle cx='278.8' cy='254.35' r='0.9' fill='#1e1e1e'/>
<circle cx='279' cy='256.95' r='0.9' fill='#1e1e1e'/>
<line x1='258.75' y1='261.73' x2='271.5' y2='261.73' stroke='#a8a8a8' stroke-width='0.75'/>
<line x1='230' y1='261.73' x2='236.25' y2='261.73' stroke='#a9d5e2' stroke-width='0.75'/>
<line x1='246' y1='264.33' x2='262.5' y2='264.33' stroke='#a8a8a8' stroke-width='0.75'/>
<line x1='230' y1='264.33' x2='231.75' y2='264.33' stroke='#a9d5e2' stroke-width='0.75'/>
<rect x='236.25' y='260.43' width='22.50' height='2.6' rx='0.4' fill='#c41b20' stroke='#6a0e0e' stroke-width='0.45'/>
<line x1='245.25' y1='260.63' x2='245.25' y2='262.83' stroke='#4a0808' stroke-width='0.5'/>
<rect x='231.75' y='263.03' width='14.25' height='2.6' rx='0.4' fill='#e2922f' stroke='#9a5a14' stroke-width='0.45'/>
<line x1='236.03' y1='263.23' x2='236.03' y2='265.43' stroke='#4a3008' stroke-width='0.5'/>
<circle cx='278.5' cy='264.33' r='0.6' fill='#1e1e1e'/>
<line x1='247.5' y1='269.11' x2='266.25' y2='269.11' stroke='#a8a8a8' stroke-width='0.75'/>
<rect x='234.75' y='267.81' width='12.75' height='2.6' rx='0.4' fill='#c41b20' stroke='#6a0e0e' stroke-width='0.45'/>
<line x1='239.85' y1='268.01' x2='239.85' y2='270.21' stroke='#4a0808' stroke-width='0.5'/>
<circle cx='234' cy='271.71' r='1.2' fill='#1e1e1e'/>
<circle cx='241.5' cy='271.71' r='0.9' fill='#1e1e1e'/>
<circle cx='243.75' cy='271.71' r='0.9' fill='#1e1e1e'/>
<circle cx='280.8' cy='269.11' r='0.9' fill='#1e1e1e'/>
<circle cx='278.5' cy='271.71' r='0.5' fill='#1e1e1e'/>
<line x1='235.5' y1='279.09' x2='240' y2='279.09' stroke='#a8a8a8' stroke-width='0.75'/>
<rect x='229.2' y='275.19' width='4.05' height='2.6' rx='0.4' fill='#c41b20' stroke='#6a0e0e' stroke-width='0.45'/>
<line x1='230.82' y1='275.39' x2='230.82' y2='277.59' stroke='#4a0808' stroke-width='0.5'/>
<rect x='229.2' y='277.79' width='6.30' height='2.6' rx='0.4' fill='#e2922f' stroke='#9a5a14' stroke-width='0.45'/>
<line x1='231.09' y1='277.99' x2='231.09' y2='280.19' stroke='#4a3008' stroke-width='0.5'/>
<circle cx='243' cy='276.49' r='0.9' fill='#1e1e1e'/>
<circle cx='249' cy='276.49' r='0.9' fill='#1e1e1e'/>
<circle cx='278.8' cy='279.09' r='0.9' fill='#1e1e1e'/>
<circle cx='283.5' cy='279.09' r='0.9' fill='#1e1e1e'/>
<line x1='240.75' y1='283.86' x2='252.75' y2='283.86' stroke='#a8a8a8' stroke-width='0.75'/>
<line x1='244.2' y1='286.46' x2='257.25' y2='286.46' stroke='#a8a8a8' stroke-width='0.75'/>
<rect x='233.25' y='282.56' width='7.50' height='2.6' rx='0.4' fill='#c41b20' stroke='#6a0e0e' stroke-width='0.45'/>
<line x1='236.25' y1='282.76' x2='236.25' y2='284.96' stroke='#4a0808' stroke-width='0.5'/>
<rect x='232.8' y='285.16' width='11.40' height='2.6' rx='0.4' fill='#e2922f' stroke='#9a5a14' stroke-width='0.45'/>
<line x1='236.22' y1='285.36' x2='236.22' y2='287.56' stroke='#4a3008' stroke-width='0.5'/>
<circle cx='278.8' cy='283.86' r='0.9' fill='#1e1e1e'/>
<circle cx='278.8' cy='286.46' r='0.9' fill='#1e1e1e'/>
<line x1='240' y1='291.24' x2='246' y2='291.24' stroke='#a8a8a8' stroke-width='0.75'/>
<rect x='234' y='289.94' width='6.00' height='2.6' rx='0.4' fill='#c41b20' stroke='#6a0e0e' stroke-width='0.45'/>
<line x1='236.40' y1='290.14' x2='236.40' y2='292.34' stroke='#4a0808' stroke-width='0.5'/>
<rect x='232.2' y='292.54' width='2.10' height='2.6' rx='0.4' fill='#e2922f' stroke='#9a5a14' stroke-width='0.45'/>
<circle cx='265.5' cy='293.84' r='0.9' fill='#1e1e1e'/>
<circle cx='278.8' cy='291.24' r='0.9' fill='#1e1e1e'/>
<circle cx='278.3' cy='293.84' r='0.6' fill='#1e1e1e'/>
<line x1='236.25' y1='298.62' x2='245.25' y2='298.62' stroke='#a8a8a8' stroke-width='0.75'/>
<rect x='229.5' y='297.32' width='6.75' height='2.6' rx='0.4' fill='#c41b20' stroke='#6a0e0e' stroke-width='0.45'/>
<line x1='232.20' y1='297.52' x2='232.20' y2='299.72' stroke='#4a0808' stroke-width='0.5'/>
<rect x='229.5' y='299.92' width='6.30' height='2.6' rx='0.4' fill='#e2922f' stroke='#9a5a14' stroke-width='0.45'/>
<line x1='231.39' y1='300.12' x2='231.39' y2='302.32' stroke='#4a3008' stroke-width='0.5'/>
<circle cx='246.75' cy='301.22' r='0.9' fill='#1e1e1e'/>
<circle cx='268.5' cy='301.22' r='0.9' fill='#1e1e1e'/>
<circle cx='278.5' cy='301.22' r='0.6' fill='#1e1e1e'/>
<circle cx='281.3' cy='301.22' r='0.9' fill='#1e1e1e'/>
<rect x='230.25' y='304.70' width='3.45' height='2.6' rx='0.4' fill='#c41b20' stroke='#6a0e0e' stroke-width='0.45'/>
<line x1='231.63' y1='304.90' x2='231.63' y2='307.10' stroke='#4a0808' stroke-width='0.5'/>
<rect x='230.25' y='307.30' width='3.45' height='2.6' rx='0.4' fill='#e2922f' stroke='#9a5a14' stroke-width='0.45'/>
<line x1='231.28' y1='307.50' x2='231.28' y2='309.70' stroke='#4a3008' stroke-width='0.5'/>
<circle cx='241.5' cy='306.00' r='0.9' fill='#1e1e1e'/>
<circle cx='245.25' cy='306.00' r='0.9' fill='#1e1e1e'/>
<circle cx='249.5' cy='306.00' r='0.9' fill='#1e1e1e'/>
<circle cx='272.25' cy='306.00' r='0.9' fill='#1e1e1e'/>
<circle cx='245.25' cy='308.60' r='0.9' fill='#1e1e1e'/>
<circle cx='254.25' cy='308.60' r='0.9' fill='#1e1e1e'/>
<circle cx='258.75' cy='308.60' r='0.9' fill='#1e1e1e'/>
<circle cx='278.5' cy='306.00' r='0.6' fill='#1e1e1e'/>
<circle cx='278.3' cy='308.60' r='0.5' fill='#1e1e1e'/>
<line x1='229' y1='22.25' x2='272.25' y2='22.25' stroke='#555' stroke-width='0.6'/><line x1='229' y1='22' x2='229' y2='319.5' stroke='#a9a9a9' stroke-width='1.2'/><line x1='278.25' y1='22.25' x2='353.5' y2='22.25' stroke='#555' stroke-width='0.6'/><line x1='359.75' y1='22.25' x2='396.5' y2='22.25' stroke='#555' stroke-width='0.6'/><line x1='229' y1='20.8' x2='229' y2='22.25' stroke='#777' stroke-width='0.4'/><text transform='translate(230.0,20.4) rotate(-90)' font-size='3.2' fill='#999' stroke='#999' stroke-width='0.12'>100</text><text transform='translate(230.0,15.6) rotate(-90)' font-size='3.2' fill='#aaa' stroke='#aaa' stroke-width='0.12'>0</text><line x1='243.5' y1='20.8' x2='243.5' y2='22.25' stroke='#777' stroke-width='0.4'/><text transform='translate(244.5,20.4) rotate(-90)' font-size='3.2' fill='#999' stroke='#999' stroke-width='0.12'>100</text><text transform='translate(244.5,15.6) rotate(-90)' font-size='3.2' fill='#aaa' stroke='#aaa' stroke-width='0.12'>0</text><line x1='257.9' y1='20.8' x2='257.9' y2='22.25' stroke='#777' stroke-width='0.4'/><text transform='translate(258.9,20.4) rotate(-90)' font-size='3.2' fill='#999' stroke='#999' stroke-width='0.12'>100</text><text transform='translate(258.9,15.6) rotate(-90)' font-size='3.2' fill='#aaa' stroke='#aaa' stroke-width='0.12'>0</text><line x1='272.25' y1='20.8' x2='272.25' y2='22.25' stroke='#777' stroke-width='0.4'/><text transform='translate(273.25,20.4) rotate(-90)' font-size='3.2' fill='#999' stroke='#999' stroke-width='0.12'>100</text><text transform='translate(273.25,15.6) rotate(-90)' font-size='3.2' fill='#aaa' stroke='#aaa' stroke-width='0.12'>0</text><line x1='282.25' y1='21.2' x2='282.25' y2='22.25' stroke='#6a9' stroke-width='0.4'/><text transform='translate(283.05,20.6) rotate(-90)' font-size='2.2' fill='#99a3c0' stroke='#99a3c0' stroke-width='0.12'>0</text><line x1='287.63' y1='21.2' x2='287.63' y2='22.25' stroke='#6a9' stroke-width='0.4'/><text transform='translate(288.43,20.6) rotate(-90)' font-size='2.2' fill='#99a3c0' stroke='#99a3c0' stroke-width='0.12'>1</text><line x1='293.01' y1='21.2' x2='293.01' y2='22.25' stroke='#6a9' stroke-width='0.4'/><text transform='translate(293.81,20.6) rotate(-90)' font-size='2.2' fill='#99a3c0' stroke='#99a3c0' stroke-width='0.12'>2</text><line x1='298.39' y1='21.2' x2='298.39' y2='22.25' stroke='#6a9' stroke-width='0.4'/><text transform='translate(299.19,20.6) rotate(-90)' font-size='2.2' fill='#99a3c0' stroke='#99a3c0' stroke-width='0.12'>3</text><line x1='303.77' y1='21.2' x2='303.77' y2='22.25' stroke='#6a9' stroke-width='0.4'/><text transform='translate(304.57,20.6) rotate(-90)' font-size='2.2' fill='#99a3c0' stroke='#99a3c0' stroke-width='0.12'>4</text><line x1='309.15' y1='21.2' x2='309.15' y2='22.25' stroke='#6a9' stroke-width='0.4'/><text transform='translate(309.95,20.6) rotate(-90)' font-size='2.2' fill='#99a3c0' stroke='#99a3c0' stroke-width='0.12'>5</text><line x1='314.53' y1='21.2' x2='314.53' y2='22.25' stroke='#6a9' stroke-width='0.4'/><text transform='translate(315.33,20.6) rotate(-90)' font-size='2.2' fill='#99a3c0' stroke='#99a3c0' stroke-width='0.12'>6</text><line x1='319.91' y1='21.2' x2='319.91' y2='22.25' stroke='#6a9' stroke-width='0.4'/><text transform='translate(320.71,20.6) rotate(-90)' font-size='2.2' fill='#99a3c0' stroke='#99a3c0' stroke-width='0.12'>7</text><line x1='325.29' y1='21.2' x2='325.29' y2='22.25' stroke='#6a9' stroke-width='0.4'/><text transform='translate(326.09,20.6) rotate(-90)' font-size='2.2' fill='#99a3c0' stroke='#99a3c0' stroke-width='0.12'>8</text><line x1='330.67' y1='21.2' x2='330.67' y2='22.25' stroke='#6a9' stroke-width='0.4'/><text transform='translate(331.47,20.6) rotate(-90)' font-size='2.2' fill='#99a3c0' stroke='#99a3c0' stroke-width='0.12'>10.0</text><line x1='336.05' y1='21.2' x2='336.05' y2='22.25' stroke='#6a9' stroke-width='0.4'/><text transform='translate(336.85,20.6) rotate(-90)' font-size='2.2' fill='#99a3c0' stroke='#99a3c0' stroke-width='0.12'>20.0</text><line x1='341.43' y1='21.2' x2='341.43' y2='22.25' stroke='#6a9' stroke-width='0.4'/><text transform='translate(342.23,20.6) rotate(-90)' font-size='2.2' fill='#99a3c0' stroke='#99a3c0' stroke-width='0.12'>30.0</text><line x1='346.81' y1='21.2' x2='346.81' y2='22.25' stroke='#6a9' stroke-width='0.4'/><text transform='translate(347.61,20.6) rotate(-90)' font-size='2.2' fill='#99a3c0' stroke='#99a3c0' stroke-width='0.12'>40.0</text><line x1='352.19' y1='21.2' x2='352.19' y2='22.25' stroke='#6a9' stroke-width='0.4'/><text transform='translate(352.99,20.6) rotate(-90)' font-size='2.2' fill='#99a3c0' stroke='#99a3c0' stroke-width='0.12'>50.0</text><line x1='360.6' y1='21.2' x2='360.6' y2='22.25' stroke='#777' stroke-width='0.4'/><text transform='translate(361.50,20.2) rotate(-90)' font-size='2.6' fill='#8a8a8a' stroke='#8a8a8a' stroke-width='0.12'>100.0</text><line x1='368.1' y1='21.2' x2='368.1' y2='22.25' stroke='#777' stroke-width='0.4'/><text transform='translate(369.00,20.2) rotate(-90)' font-size='2.6' fill='#8a8a8a' stroke='#8a8a8a' stroke-width='0.12'>1000.0</text><line x1='375.6' y1='21.2' x2='375.6' y2='22.25' stroke='#777' stroke-width='0.4'/><text transform='translate(376.50,20.2) rotate(-90)' font-size='2.6' fill='#8a8a8a' stroke='#8a8a8a' stroke-width='0.12'>1000.0</text><line x1='382.75' y1='21.2' x2='382.75' y2='22.25' stroke='#777' stroke-width='0.4'/><text transform='translate(383.65,20.2) rotate(-90)' font-size='2.6' fill='#8a8a8a' stroke='#8a8a8a' stroke-width='0.12'>1000.0</text><line x1='390' y1='21.2' x2='390' y2='22.25' stroke='#777' stroke-width='0.4'/><text transform='translate(390.90,20.2) rotate(-90)' font-size='2.6' fill='#8a8a8a' stroke='#8a8a8a' stroke-width='0.12'>1000.0</text><line x1='227.8' y1='26.80' x2='229.6' y2='26.80' stroke='#666' stroke-width='0.5'/><line x1='227.8' y1='34.20' x2='229.6' y2='34.20' stroke='#666' stroke-width='0.5'/><line x1='227.8' y1='41.59' x2='229.6' y2='41.59' stroke='#666' stroke-width='0.5'/><line x1='227.8' y1='48.98' x2='229.6' y2='48.98' stroke='#666' stroke-width='0.5'/><line x1='227.8' y1='56.38' x2='229.6' y2='56.38' stroke='#666' stroke-width='0.5'/><line x1='227.8' y1='63.77' x2='229.6' y2='63.77' stroke='#666' stroke-width='0.5'/><line x1='227.8' y1='71.17' x2='229.6' y2='71.17' stroke='#666' stroke-width='0.5'/><line x1='227.8' y1='78.56' x2='229.6' y2='78.56' stroke='#666' stroke-width='0.5'/><line x1='227.8' y1='85.96' x2='229.6' y2='85.96' stroke='#666' stroke-width='0.5'/><line x1='227.8' y1='93.35' x2='229.6' y2='93.35' stroke='#666' stroke-width='0.5'/><line x1='227.8' y1='100.75' x2='229.6' y2='100.75' stroke='#666' stroke-width='0.5'/><line x1='227.8' y1='108.14' x2='229.6' y2='108.14' stroke='#666' stroke-width='0.5'/><line x1='227.8' y1='115.54' x2='229.6' y2='115.54' stroke='#666' stroke-width='0.5'/><line x1='227.8' y1='122.93' x2='229.6' y2='122.93' stroke='#666' stroke-width='0.5'/><line x1='227.8' y1='130.33' x2='229.6' y2='130.33' stroke='#666' stroke-width='0.5'/><line x1='227.8' y1='137.72' x2='229.6' y2='137.72' stroke='#666' stroke-width='0.5'/><line x1='227.8' y1='145.12' x2='229.6' y2='145.12' stroke='#666' stroke-width='0.5'/><line x1='227.8' y1='152.51' x2='229.6' y2='152.51' stroke='#666' stroke-width='0.5'/><line x1='227.8' y1='159.91' x2='229.6' y2='159.91' stroke='#666' stroke-width='0.5'/><line x1='227.8' y1='167.31' x2='229.6' y2='167.31' stroke='#666' stroke-width='0.5'/><line x1='227.8' y1='174.70' x2='229.6' y2='174.70' stroke='#666' stroke-width='0.5'/><line x1='227.8' y1='182.09' x2='229.6' y2='182.09' stroke='#666' stroke-width='0.5'/><line x1='227.8' y1='189.49' x2='229.6' y2='189.49' stroke='#666' stroke-width='0.5'/><line x1='227.8' y1='196.88' x2='229.6' y2='196.88' stroke='#666' stroke-width='0.5'/><line x1='227.8' y1='204.28' x2='229.6' y2='204.28' stroke='#666' stroke-width='0.5'/><line x1='227.8' y1='211.68' x2='229.6' y2='211.68' stroke='#666' stroke-width='0.5'/><line x1='227.8' y1='219.07' x2='229.6' y2='219.07' stroke='#666' stroke-width='0.5'/><line x1='227.8' y1='226.47' x2='229.6' y2='226.47' stroke='#666' stroke-width='0.5'/><line x1='227.8' y1='233.86' x2='229.6' y2='233.86' stroke='#666' stroke-width='0.5'/><line x1='227.8' y1='241.25' x2='229.6' y2='241.25' stroke='#666' stroke-width='0.5'/><line x1='227.8' y1='248.65' x2='229.6' y2='248.65' stroke='#666' stroke-width='0.5'/><line x1='227.8' y1='256.04' x2='229.6' y2='256.04' stroke='#666' stroke-width='0.5'/><line x1='227.8' y1='263.44' x2='229.6' y2='263.44' stroke='#666' stroke-width='0.5'/><line x1='227.8' y1='270.83' x2='229.6' y2='270.83' stroke='#666' stroke-width='0.5'/><line x1='227.8' y1='278.23' x2='229.6' y2='278.23' stroke='#666' stroke-width='0.5'/><line x1='227.8' y1='285.62' x2='229.6' y2='285.62' stroke='#666' stroke-width='0.5'/><line x1='227.8' y1='293.02' x2='229.6' y2='293.02' stroke='#666' stroke-width='0.5'/><line x1='227.8' y1='300.42' x2='229.6' y2='300.42' stroke='#666' stroke-width='0.5'/><line x1='227.8' y1='307.81' x2='229.6' y2='307.81' stroke='#666' stroke-width='0.5'/><line x1='227.8' y1='315.20' x2='229.6' y2='315.20' stroke='#666' stroke-width='0.5'/>
<text x='290' y='11.2' font-size='4.9' textLength='41' lengthAdjust='spacingAndGlyphs' fill='#111' text-rendering='auto'>Abundance (mmol/L)</text>
<text x='226.3' y='28.10' font-size='3.73' text-anchor='end' fill='#eb9055' stroke='#eb9055' stroke-width='0.22'>GCDCA</text>
<text x='226.3' y='35.49' font-size='3.73' text-anchor='end' fill='#eb9055' stroke='#eb9055' stroke-width='0.22'>TCA</text>
<text x='226.3' y='42.89' font-size='3.73' text-anchor='end' fill='#eb9055' stroke='#eb9055' stroke-width='0.22'>GCA</text>
<text x='226.3' y='50.28' font-size='3.73' text-anchor='end' fill='#eb9055' stroke='#eb9055' stroke-width='0.22'>TCDCA</text>
<text x='226.3' y='57.68' font-size='3.73' text-anchor='end' fill='#1c1c1c' stroke='#1c1c1c' stroke-width='0.22'>GDCA</text>
<text x='226.3' y='65.07' font-size='3.73' text-anchor='end' fill='#1c1c1c' stroke='#1c1c1c' stroke-width='0.22'>TDCA</text>
<text x='226.3' y='72.47' font-size='3.73' text-anchor='end' fill='#eb9055' stroke='#eb9055' stroke-width='0.22'>CDCA</text>
<text x='226.3' y='79.86' font-size='3.73' text-anchor='end' fill='#1c1c1c' stroke='#1c1c1c' stroke-width='0.22'>GUDCA</text>
<text x='226.3' y='87.26' font-size='3.73' text-anchor='end' fill='#eb9055' stroke='#eb9055' stroke-width='0.22'>CA</text>
<text x='226.3' y='94.65' font-size='3.73' text-anchor='end' fill='#1c1c1c' stroke='#1c1c1c' stroke-width='0.22'>HDCA</text>
<text x='226.3' y='102.05' font-size='3.73' text-anchor='end' fill='#1c1c1c' stroke='#1c1c1c' stroke-width='0.22'>isoDCA</text>
<text x='226.3' y='109.44' font-size='3.73' text-anchor='end' fill='#1c1c1c' stroke='#1c1c1c' stroke-width='0.22'>DCA</text>
<text x='226.3' y='116.84' font-size='3.73' text-anchor='end' fill='#1c1c1c' stroke='#1c1c1c' stroke-width='0.22'>UDCA</text>
<text x='226.3' y='124.23' font-size='3.73' text-anchor='end' fill='#1c1c1c' stroke='#1c1c1c' stroke-width='0.22'>GLCA-3S</text>
<text x='226.3' y='131.63' font-size='3.73' text-anchor='end' fill='#1c1c1c' stroke='#1c1c1c' stroke-width='0.22'>TUDCA</text>
<text x='226.3' y='139.03' font-size='3.73' text-anchor='end' fill='#1c1c1c' stroke='#1c1c1c' stroke-width='0.22'>GCDCA-3S</text>
<text x='226.3' y='146.42' font-size='3.73' text-anchor='end' fill='#1c1c1c' stroke='#1c1c1c' stroke-width='0.22'>GDCA-3S</text>
<text x='226.3' y='153.81' font-size='3.73' text-anchor='end' fill='#1c1c1c' stroke='#1c1c1c' stroke-width='0.22'>HCA</text>
<text x='226.3' y='161.21' font-size='3.73' text-anchor='end' fill='#1c1c1c' stroke='#1c1c1c' stroke-width='0.22'>7,12-Diketo LCA</text>
<text x='226.3' y='168.61' font-size='3.73' text-anchor='end' fill='#1c1c1c' stroke='#1c1c1c' stroke-width='0.22'>12-DHCA</text>
<text x='226.3' y='176.00' font-size='3.73' text-anchor='end' fill='#1c1c1c' stroke='#1c1c1c' stroke-width='0.22'>TβMCA</text>
<text x='226.3' y='183.40' font-size='3.73' text-anchor='end' fill='#1c1c1c' stroke='#1c1c1c' stroke-width='0.22'>7-DHCA</text>
<text x='226.3' y='190.79' font-size='3.73' text-anchor='end' fill='#1c1c1c' stroke='#1c1c1c' stroke-width='0.22'>3-DHCA</text>
<text x='226.3' y='198.19' font-size='3.73' text-anchor='end' fill='#1c1c1c' stroke='#1c1c1c' stroke-width='0.22'>THDCA</text>
<text x='226.3' y='205.58' font-size='3.73' text-anchor='end' fill='#1c1c1c' stroke='#1c1c1c' stroke-width='0.22'>βDCA</text>
<text x='226.3' y='212.98' font-size='3.73' text-anchor='end' fill='#1c1c1c' stroke='#1c1c1c' stroke-width='0.22'>12-Keto LCA</text>
<text x='226.3' y='220.37' font-size='3.73' text-anchor='end' fill='#1c1c1c' stroke='#1c1c1c' stroke-width='0.22'>7-Keto LCA</text>
<text x='226.3' y='227.77' font-size='3.73' text-anchor='end' fill='#1c1c1c' stroke='#1c1c1c' stroke-width='0.22'>UCA</text>
<text x='226.3' y='235.16' font-size='3.73' text-anchor='end' fill='#1c1c1c' stroke='#1c1c1c' stroke-width='0.22'>6-Keto LCA</text>
<text x='226.3' y='242.56' font-size='3.73' text-anchor='end' fill='#1c1c1c' stroke='#1c1c1c' stroke-width='0.22'>GHCA</text>
<text x='226.3' y='249.95' font-size='3.73' text-anchor='end' fill='#1c1c1c' stroke='#1c1c1c' stroke-width='0.22'>βCA</text>
<text x='226.3' y='257.34' font-size='3.73' text-anchor='end' fill='#1c1c1c' stroke='#1c1c1c' stroke-width='0.22'>LCA-3S</text>
<text x='226.3' y='264.74' font-size='3.73' text-anchor='end' fill='#1c1c1c' stroke='#1c1c1c' stroke-width='0.22'>DCA-3S</text>
<text x='226.3' y='272.13' font-size='3.73' text-anchor='end' fill='#1c1c1c' stroke='#1c1c1c' stroke-width='0.22'>βHDCA</text>
<text x='226.3' y='279.53' font-size='3.73' text-anchor='end' fill='#1c1c1c' stroke='#1c1c1c' stroke-width='0.22'>TLCA</text>
<text x='226.3' y='286.93' font-size='3.73' text-anchor='end' fill='#1c1c1c' stroke='#1c1c1c' stroke-width='0.22'>βMCA</text>
<text x='226.3' y='294.32' font-size='3.73' text-anchor='end' fill='#1c1c1c' stroke='#1c1c1c' stroke-width='0.22'>6,7-Diketo LCA</text>
<text x='226.3' y='301.72' font-size='3.73' text-anchor='end' fill='#1c1c1c' stroke='#1c1c1c' stroke-width='0.22'>DLCA</text>
<text x='226.3' y='309.11' font-size='3.73' text-anchor='end' fill='#1c1c1c' stroke='#1c1c1c' stroke-width='0.22'>GHDCA</text>
<text x='226.3' y='316.50' font-size='3.73' text-anchor='end' fill='#1c1c1c' stroke='#1c1c1c' stroke-width='0.22'>TLCA-3S</text>
<text x='152.6' y='9.0' font-size='6.5' font-weight='bold' fill='#111' text-rendering='auto'>B</text>
<text x='162' y='21.2' font-size='5.0' textLength='39.3' lengthAdjust='spacingAndGlyphs' fill='#1a1a1a' text-rendering='auto'>Bar Colors: Groups</text>
<rect x='162.6' y='25.7' width='6.1' height='4.3' rx='0.8' fill='#c41b20' stroke='#6a0e0e' stroke-width='0.5'/>
<text x='171.9' y='28.8' font-size='3.85' fill='#444' stroke='#444' stroke-width='0.12'>CON</text>
<rect x='162.6' y='32.4' width='6.1' height='4.4' rx='0.8' fill='#d69a4c' stroke='#9a6420' stroke-width='0.5'/>
<text x='171.9' y='35.7' font-size='3.85' fill='#444' stroke='#444' stroke-width='0.12'>REF</text>
<text x='162.2' y='48.1' font-size='5.0' textLength='38' lengthAdjust='spacingAndGlyphs' fill='#1a1a1a' text-rendering='auto'>Text Colors: Types</text>
<line x1='162.5' y1='54.4' x2='168.8' y2='54.4' stroke='#eb9055' stroke-width='1.3'/>
<text x='171.3' y='55.7' font-size='3.72' fill='#333' stroke='#333' stroke-width='0.12'>Primary BAs</text>
<line x1='162.5' y1='60' x2='168.8' y2='60' stroke='#111' stroke-width='1.3'/>
<text x='171.3' y='61.3' font-size='3.72' fill='#333' stroke='#333' stroke-width='0.12'>Secondary BAs</text>
<text x='4.3' y='8.8' font-size='6.5' font-weight='bold' fill='#111' text-rendering='auto'>A</text>
<text x='62.5' y='13.8' font-size='3.84' text-anchor='middle' fill='#111' stroke='#111' stroke-width='0.14'>saliva_result.M2 (OPLS-DA)</text>
<text x='62.8' y='17.5' font-size='3.84' text-anchor='middle' fill='#111' stroke='#111' stroke-width='0.14'>Scaled proportionally to R2X</text>
<text x='62.4' y='21.7' font-size='3.84' text-anchor='middle' fill='#111' stroke='#111' stroke-width='0.14'>Colored according to Obs ID (Group)</text>
<rect x='16.25' y='23.7' width='100.2' height='105.7' fill='#f6f6f6'/>
<line x1='36.75' y1='23.5' x2='36.75' y2='129.4' stroke='#ededed' stroke-width='0.5'/>
<line x1='56.75' y1='23.5' x2='56.75' y2='129.4' stroke='#ededed' stroke-width='0.5'/>
<line x1='96.75' y1='23.5' x2='96.75' y2='129.4' stroke='#ededed' stroke-width='0.5'/>
<line x1='16.25' y1='36.9' x2='116.85' y2='36.9' stroke='#ededed' stroke-width='0.5'/>
<line x1='16.25' y1='50.2' x2='116.85' y2='50.2' stroke='#ededed' stroke-width='0.5'/>
<line x1='16.25' y1='76.8' x2='116.85' y2='76.8' stroke='#ededed' stroke-width='0.5'/>
<line x1='16.25' y1='90.1' x2='116.85' y2='90.1' stroke='#ededed' stroke-width='0.5'/>
<line x1='16.25' y1='103' x2='116.85' y2='103' stroke='#ededed' stroke-width='0.5'/>
<line x1='16.25' y1='116.3' x2='116.85' y2='116.3' stroke='#ededed' stroke-width='0.5'/>
<circle cx='76.75' cy='63.5' r='29.5' fill='#fdfdfd' stroke='#cfcfcf' stroke-width='0.7'/>
<line x1='76.75' y1='23.5' x2='76.75' y2='129.4' stroke='#7a7a7a' stroke-width='0.9'/>
<line x1='16.25' y1='63.5' x2='116.85' y2='63.5' stroke='#7a7a7a' stroke-width='0.9'/>
<line x1='16.25' y1='25' x2='16.25' y2='129.4' stroke='#555' stroke-width='0.8'/>
<path d='M16.25 23.6 L15.2 26.6 L17.3 26.6 Z' fill='#333'/>
<line x1='16.25' y1='129.4' x2='115.5' y2='129.4' stroke='#555' stroke-width='0.8'/>
<path d='M116.9 129.4 L113.9 128.35 L113.9 130.45 Z' fill='#333'/>
<text x='14.6' y='37.8' font-size='2.7' text-anchor='end' fill='#333' stroke='#333' stroke-width='0.12'>10</text>
<line x1='15.4' y1='36.9' x2='16.25' y2='36.9' stroke='#555' stroke-width='0.4'/>
<text x='14.6' y='51.1' font-size='2.7' text-anchor='end' fill='#333' stroke='#333' stroke-width='0.12'>5</text>
<line x1='15.4' y1='50.2' x2='16.25' y2='50.2' stroke='#555' stroke-width='0.4'/>
<text x='14.6' y='64.4' font-size='2.7' text-anchor='end' fill='#333' stroke='#333' stroke-width='0.12'>0</text>
<line x1='15.4' y1='63.5' x2='16.25' y2='63.5' stroke='#555' stroke-width='0.4'/>
<text x='14.6' y='77.4' font-size='2.7' text-anchor='end' fill='#333' stroke='#333' stroke-width='0.12'>-5</text>
<line x1='15.4' y1='76.5' x2='16.25' y2='76.5' stroke='#555' stroke-width='0.4'/>
<text x='14.6' y='90.7' font-size='2.7' text-anchor='end' fill='#333' stroke='#333' stroke-width='0.12'>-10</text>
<line x1='15.4' y1='89.8' x2='16.25' y2='89.8' stroke='#555' stroke-width='0.4'/>
<text x='14.6' y='103.80000000000001' font-size='2.7' text-anchor='end' fill='#333' stroke='#333' stroke-width='0.12'>-15</text>
<line x1='15.4' y1='102.9' x2='16.25' y2='102.9' stroke='#555' stroke-width='0.4'/>
<text x='14.6' y='117.10000000000001' font-size='2.7' text-anchor='end' fill='#333' stroke='#333' stroke-width='0.12'>-20</text>
<line x1='15.4' y1='116.2' x2='16.25' y2='116.2' stroke='#555' stroke-width='0.4'/>
<text x='14.6' y='130.1' font-size='2.7' text-anchor='end' fill='#333' stroke='#333' stroke-width='0.12'>-25</text>
<line x1='15.4' y1='129.2' x2='16.25' y2='129.2' stroke='#555' stroke-width='0.4'/>
<line x1='15.6' y1='43.6' x2='16.25' y2='43.6' stroke='#555' stroke-width='0.4'/>
<line x1='15.6' y1='56.9' x2='16.25' y2='56.9' stroke='#555' stroke-width='0.4'/>
<line x1='15.6' y1='70.2' x2='16.25' y2='70.2' stroke='#555' stroke-width='0.4'/>
<line x1='15.6' y1='83.4' x2='16.25' y2='83.4' stroke='#555' stroke-width='0.4'/>
<line x1='15.6' y1='96.5' x2='16.25' y2='96.5' stroke='#555' stroke-width='0.4'/>
<line x1='15.6' y1='109.6' x2='16.25' y2='109.6' stroke='#555' stroke-width='0.4'/>
<line x1='15.6' y1='122.8' x2='16.25' y2='122.8' stroke='#555' stroke-width='0.4'/>
<line x1='27.1' y1='129.4' x2='27.1' y2='130.0' stroke='#555' stroke-width='0.4'/>
<line x1='47' y1='129.4' x2='47' y2='130.0' stroke='#555' stroke-width='0.4'/>
<line x1='66.9' y1='129.4' x2='66.9' y2='130.0' stroke='#555' stroke-width='0.4'/>
<line x1='86.8' y1='129.4' x2='86.8' y2='130.0' stroke='#555' stroke-width='0.4'/>
<line x1='106.7' y1='129.4' x2='106.7' y2='130.0' stroke='#555' stroke-width='0.4'/>
<text x='17.5' y='133.6' font-size='2.7' text-anchor='middle' fill='#333' stroke='#333' stroke-width='0.12'>-15</text>
<line x1='17.5' y1='129.4' x2='17.5' y2='130.3' stroke='#555' stroke-width='0.4'/>
<text x='36.9' y='133.6' font-size='2.7' text-anchor='middle' fill='#333' stroke='#333' stroke-width='0.12'>-10</text>
<line x1='36.9' y1='129.4' x2='36.9' y2='130.3' stroke='#555' stroke-width='0.4'/>
<text x='57.2' y='133.6' font-size='2.7' text-anchor='middle' fill='#333' stroke='#333' stroke-width='0.12'>-5</text>
<line x1='57.2' y1='129.4' x2='57.2' y2='130.3' stroke='#555' stroke-width='0.4'/>
<text x='76.75' y='133.6' font-size='2.7' text-anchor='middle' fill='#333' stroke='#333' stroke-width='0.12'>0</text>
<line x1='76.75' y1='129.4' x2='76.75' y2='130.3' stroke='#555' stroke-width='0.4'/>
<text x='97' y='133.6' font-size='2.7' text-anchor='middle' fill='#333' stroke='#333' stroke-width='0.12'>5</text>
<line x1='97' y1='129.4' x2='97' y2='130.3' stroke='#555' stroke-width='0.4'/>
<text x='66.6' y='137.6' font-size='3.6' text-anchor='middle' fill='#111' stroke='#111' stroke-width='0.12'>1.10264 * t[1]</text>
<text transform='translate(9.6,76.5) rotate(-90)' font-size='3.2' text-anchor='middle' textLength='24.3' lengthAdjust='spacingAndGlyphs' fill='#222' stroke='#222' stroke-width='0.12'>1.27664 * to[1]</text>
<text x='9' y='141.9' font-size='3.0' fill='#222' stroke='#222' stroke-width='0.12'>R2X[1] = 0.160</text>
<text x='43' y='141.9' font-size='3.0' fill='#222' stroke='#222' stroke-width='0.12'>R2X[XO1] = 0.453</text>
<text x='80.5' y='141.9' font-size='2.85' fill='#222' stroke='#222' stroke-width='0.12'>Ellipse: Hotelling's T2 (95%)</text>
<rect x='119.4' y='10.6' width='2.1' height='1.9' fill='#c8403a'/>
<text x='122.4' y='12.3' font-size='1.9' fill='#888' stroke='#888' stroke-width='0.12'>CON</text>
<rect x='119.4' y='14.3' width='2.1' height='1.8' fill='#eea050'/>
<text x='122.4' y='15.9' font-size='1.9' fill='#888' stroke='#888' stroke-width='0.12'>REF</text>
<circle cx='68.40' cy='59.30' r='1.5' fill='none' stroke='#cf6f6f' stroke-width='0.45' opacity='0.8'/>
<text x='70.10' y='59.90' font-size='1.7' fill='#cf6f6f' stroke='none' opacity='0.6'>S_76</text>
<circle cx='77.27' cy='58.18' r='1.5' fill='none' stroke='#eab35a' stroke-width='0.45' opacity='0.8'/>
<circle cx='59.57' cy='66.76' r='1.5' fill='none' stroke='#cf6f6f' stroke-width='0.45' opacity='0.8'/>
<circle cx='75.02' cy='65.13' r='1.5' fill='none' stroke='#cf6f6f' stroke-width='0.45' opacity='0.8'/>
<circle cx='61.27' cy='63.63' r='1.5' fill='none' stroke='#cf6f6f' stroke-width='0.45' opacity='0.8'/>
<circle cx='79.01' cy='58.00' r='1.5' fill='none' stroke='#cf6f6f' stroke-width='0.45' opacity='0.8'/>
<text x='80.71' y='58.60' font-size='1.7' fill='#cf6f6f' stroke='none' opacity='0.6'>S_34</text>
<circle cx='89.62' cy='53.43' r='1.5' fill='none' stroke='#eab35a' stroke-width='0.45' opacity='0.8'/>
<text x='91.32' y='54.03' font-size='1.7' fill='#eab35a' stroke='none' opacity='0.6'>S_22</text>
<circle cx='70.35' cy='66.23' r='1.5' fill='none' stroke='#cf6f6f' stroke-width='0.45' opacity='0.8'/>
<circle cx='64.52' cy='65.62' r='1.5' fill='none' stroke='#cf6f6f' stroke-width='0.45' opacity='0.8'/>
<circle cx='76.39' cy='54.47' r='1.5' fill='none' stroke='#cf6f6f' stroke-width='0.45' opacity='0.8'/>
<circle cx='83.14' cy='56.95' r='1.5' fill='none' stroke='#eab35a' stroke-width='0.45' opacity='0.8'/>
<circle cx='73.81' cy='58.62' r='1.5' fill='none' stroke='#eab35a' stroke-width='0.45' opacity='0.8'/>
<text x='75.51' y='59.22' font-size='1.7' fill='#eab35a' stroke='none' opacity='0.6'>S_88</text>
<circle cx='88.44' cy='57.76' r='1.5' fill='none' stroke='#eab35a' stroke-width='0.45' opacity='0.8'/>
<circle cx='79.17' cy='64.45' r='1.5' fill='none' stroke='#eab35a' stroke-width='0.45' opacity='0.8'/>
<circle cx='84.54' cy='54.95' r='1.5' fill='none' stroke='#eab35a' stroke-width='0.45' opacity='0.8'/>
<text x='86.24' y='55.55' font-size='1.7' fill='#eab35a' stroke='none' opacity='0.6'>S_45</text>
<circle cx='74.46' cy='64.40' r='1.5' fill='none' stroke='#cf6f6f' stroke-width='0.45' opacity='0.8'/>
<circle cx='63.12' cy='65.26' r='1.5' fill='none' stroke='#cf6f6f' stroke-width='0.45' opacity='0.8'/>
<circle cx='86.90' cy='57.12' r='1.5' fill='none' stroke='#eab35a' stroke-width='0.45' opacity='0.8'/>
<circle cx='90.35' cy='53.42' r='1.5' fill='none' stroke='#eab35a' stroke-width='0.45' opacity='0.8'/>
<circle cx='79.38' cy='58.64' r='1.5' fill='none' stroke='#cf6f6f' stroke-width='0.45' opacity='0.8'/>
<circle cx='76.25' cy='62.65' r='1.5' fill='none' stroke='#eab35a' stroke-width='0.45' opacity='0.8'/>
<circle cx='88.16' cy='53.83' r='1.5' fill='none' stroke='#eab35a' stroke-width='0.45' opacity='0.8'/>
<circle cx='72.82' cy='63.80' r='1.5' fill='none' stroke='#cf6f6f' stroke-width='0.45' opacity='0.8'/>
<text x='74.52' y='64.40' font-size='1.7' fill='#cf6f6f' stroke='none' opacity='0.6'>S_81</text>
<circle cx='61.54' cy='63.72' r='1.5' fill='none' stroke='#cf6f6f' stroke-width='0.45' opacity='0.8'/>
<circle cx='73.86' cy='65.97' r='1.5' fill='none' stroke='#cf6f6f' stroke-width='0.45' opacity='0.8'/>
<text x='75.56' y='66.57' font-size='1.7' fill='#cf6f6f' stroke='none' opacity='0.6'>S_67</text>
<circle cx='80.10' cy='64.08' r='1.5' fill='none' stroke='#eab35a' stroke-width='0.45' opacity='0.8'/>
<text x='81.80' y='64.68' font-size='1.7' fill='#eab35a' stroke='none' opacity='0.6'>S_25</text>
<circle cx='89.90' cy='58.73' r='1.5' fill='none' stroke='#eab35a' stroke-width='0.45' opacity='0.8'/>
<text x='91.60' y='59.33' font-size='1.7' fill='#eab35a' stroke='none' opacity='0.6'>S_50</text>
<circle cx='72.63' cy='66.42' r='1.5' fill='none' stroke='#cf6f6f' stroke-width='0.45' opacity='0.8'/>
<text x='74.33' y='67.02' font-size='1.7' fill='#cf6f6f' stroke='none' opacity='0.6'>S_40</text>
<circle cx='63.24' cy='62.76' r='1.5' fill='none' stroke='#cf6f6f' stroke-width='0.45' opacity='0.8'/>
<text x='64.94' y='63.36' font-size='1.7' fill='#cf6f6f' stroke='none' opacity='0.6'>S_37</text>
<circle cx='78.91' cy='56.34' r='1.5' fill='none' stroke='#eab35a' stroke-width='0.45' opacity='0.8'/>
<circle cx='71.76' cy='62.91' r='1.5' fill='none' stroke='#cf6f6f' stroke-width='0.45' opacity='0.8'/>
<circle cx='77.63' cy='61.50' r='1.5' fill='none' stroke='#cf6f6f' stroke-width='0.45' opacity='0.8'/>
<circle cx='81.54' cy='53.21' r='1.5' fill='none' stroke='#eab35a' stroke-width='0.45' opacity='0.8'/>
<text x='83.24' y='53.81' font-size='1.7' fill='#eab35a' stroke='none' opacity='0.6'>S_92</text>
<circle cx='91.73' cy='57.17' r='1.5' fill='none' stroke='#eab35a' stroke-width='0.45' opacity='0.8'/>
<circle cx='71.95' cy='60.75' r='1.5' fill='none' stroke='#cf6f6f' stroke-width='0.45' opacity='0.8'/>
<text x='73.65' y='61.35' font-size='1.7' fill='#cf6f6f' stroke='none' opacity='0.6'>S_27</text>
<circle cx='64.21' cy='61.57' r='1.5' fill='none' stroke='#cf6f6f' stroke-width='0.45' opacity='0.8'/>
<circle cx='68.61' cy='57.98' r='1.5' fill='none' stroke='#cf6f6f' stroke-width='0.45' opacity='0.8'/>
<text x='70.31' y='58.58' font-size='1.7' fill='#cf6f6f' stroke='none' opacity='0.6'>S_22</text>
<circle cx='60.83' cy='65.07' r='1.5' fill='none' stroke='#cf6f6f' stroke-width='0.45' opacity='0.8'/>
<text x='62.53' y='65.67' font-size='1.7' fill='#cf6f6f' stroke='none' opacity='0.6'>S_72</text>
<circle cx='79.42' cy='54.80' r='1.5' fill='none' stroke='#eab35a' stroke-width='0.45' opacity='0.8'/>
<text x='81.12' y='55.40' font-size='1.7' fill='#eab35a' stroke='none' opacity='0.6'>S_95</text>
<circle cx='69.77' cy='58.25' r='1.5' fill='none' stroke='#cf6f6f' stroke-width='0.45' opacity='0.8'/>
<circle cx='75.12' cy='60.60' r='1.5' fill='none' stroke='#cf6f6f' stroke-width='0.45' opacity='0.8'/>
<text x='76.82' y='61.20' font-size='1.7' fill='#cf6f6f' stroke='none' opacity='0.6'>S_65</text>
<circle cx='69.54' cy='60.14' r='1.5' fill='none' stroke='#cf6f6f' stroke-width='0.45' opacity='0.8'/>
<circle cx='88.05' cy='52.72' r='1.5' fill='none' stroke='#eab35a' stroke-width='0.45' opacity='0.8'/>
<text x='89.75' y='53.32' font-size='1.7' fill='#eab35a' stroke='none' opacity='0.6'>S_63</text>
<circle cx='75.98' cy='55.65' r='1.5' fill='none' stroke='#eab35a' stroke-width='0.45' opacity='0.8'/>
<text x='77.68' y='56.25' font-size='1.7' fill='#eab35a' stroke='none' opacity='0.6'>S_50</text>
<circle cx='76.04' cy='54.09' r='1.5' fill='none' stroke='#cf6f6f' stroke-width='0.45' opacity='0.8'/>
<text x='77.74' y='54.69' font-size='1.7' fill='#cf6f6f' stroke='none' opacity='0.6'>S_56</text>
<circle cx='91.02' cy='56.57' r='1.5' fill='none' stroke='#eab35a' stroke-width='0.45' opacity='0.8'/>
<text x='92.72' y='57.17' font-size='1.7' fill='#eab35a' stroke='none' opacity='0.6'>S_80</text>
<circle cx='66.87' cy='62.51' r='1.5' fill='none' stroke='#cf6f6f' stroke-width='0.45' opacity='0.8'/>
<circle cx='79.01' cy='63.16' r='1.5' fill='none' stroke='#eab35a' stroke-width='0.45' opacity='0.8'/>
<circle cx='68.89' cy='59.93' r='1.5' fill='none' stroke='#cf6f6f' stroke-width='0.45' opacity='0.8'/>
<text x='70.59' y='60.53' font-size='1.7' fill='#cf6f6f' stroke='none' opacity='0.6'>S_76</text>
<circle cx='90.95' cy='57.63' r='1.5' fill='none' stroke='#eab35a' stroke-width='0.45' opacity='0.8'/>
<circle cx='89.47' cy='57.70' r='1.5' fill='none' stroke='#eab35a' stroke-width='0.45' opacity='0.8'/>
<circle cx='69.08' cy='57.42' r='1.5' fill='none' stroke='#cf6f6f' stroke-width='0.45' opacity='0.8'/>
<text x='70.78' y='58.02' font-size='1.7' fill='#cf6f6f' stroke='none' opacity='0.6'>S_39</text>
<circle cx='67.95' cy='65.60' r='1.5' fill='none' stroke='#cf6f6f' stroke-width='0.45' opacity='0.8'/>
<circle cx='93.60' cy='52.79' r='1.5' fill='none' stroke='#eab35a' stroke-width='0.45' opacity='0.8'/>
<text x='95.30' y='53.39' font-size='1.7' fill='#eab35a' stroke='none' opacity='0.6'>S_43</text>
<circle cx='64.86' cy='61.93' r='1.5' fill='none' stroke='#cf6f6f' stroke-width='0.45' opacity='0.8'/>
<text x='66.56' y='62.53' font-size='1.7' fill='#cf6f6f' stroke='none' opacity='0.6'>S_33</text>
<circle cx='82.90' cy='62.83' r='1.5' fill='none' stroke='#eab35a' stroke-width='0.45' opacity='0.8'/>
<text x='84.60' y='63.43' font-size='1.7' fill='#eab35a' stroke='none' opacity='0.6'>S_26</text>
<circle cx='89.49' cy='55.19' r='1.5' fill='none' stroke='#eab35a' stroke-width='0.45' opacity='0.8'/>
<circle cx='61.02' cy='67.48' r='1.5' fill='none' stroke='#cf6f6f' stroke-width='0.45' opacity='0.8'/>
<circle cx='92.99' cy='56.41' r='1.5' fill='none' stroke='#eab35a' stroke-width='0.45' opacity='0.8'/>
<circle cx='65.09' cy='67.39' r='1.5' fill='none' stroke='#cf6f6f' stroke-width='0.45' opacity='0.8'/>
<circle cx='71.25' cy='65.82' r='1.5' fill='none' stroke='#cf6f6f' stroke-width='0.45' opacity='0.8'/>
<text x='72.95' y='66.42' font-size='1.7' fill='#cf6f6f' stroke='none' opacity='0.6'>S_78</text>
<circle cx='74.60' cy='66.70' r='1.5' fill='none' stroke='#cf6f6f' stroke-width='0.45' opacity='0.8'/>
<circle cx='83.93' cy='53.88' r='1.5' fill='none' stroke='#eab35a' stroke-width='0.45' opacity='0.8'/>
<circle cx='63.92' cy='68.04' r='1.5' fill='none' stroke='#cf6f6f' stroke-width='0.45' opacity='0.8'/>
<circle cx='70.96' cy='62.98' r='1.5' fill='none' stroke='#cf6f6f' stroke-width='0.45' opacity='0.8'/>
<text x='72.66' y='63.58' font-size='1.7' fill='#cf6f6f' stroke='none' opacity='0.6'>S_17</text>
<circle cx='94.93' cy='54.45' r='1.5' fill='none' stroke='#eab35a' stroke-width='0.45' opacity='0.8'/>
<circle cx='79.49' cy='65.13' r='1.5' fill='none' stroke='#cf6f6f' stroke-width='0.45' opacity='0.8'/>
<text x='81.19' y='65.73' font-size='1.7' fill='#cf6f6f' stroke='none' opacity='0.6'>S_19</text>
<circle cx='88.10' cy='53.16' r='1.5' fill='none' stroke='#eab35a' stroke-width='0.45' opacity='0.8'/>
<text x='89.80' y='53.76' font-size='1.7' fill='#eab35a' stroke='none' opacity='0.6'>S_12</text>
<circle cx='66.26' cy='61.98' r='1.5' fill='none' stroke='#cf6f6f' stroke-width='0.45' opacity='0.8'/>
<circle cx='66.99' cy='63.03' r='1.5' fill='none' stroke='#cf6f6f' stroke-width='0.45' opacity='0.8'/>
<circle cx='70.73' cy='61.98' r='1.5' fill='none' stroke='#cf6f6f' stroke-width='0.45' opacity='0.8'/>
<text x='72.43' y='62.58' font-size='1.7' fill='#cf6f6f' stroke='none' opacity='0.6'>S_38</text>
<circle cx='75.25' cy='66.20' r='1.5' fill='none' stroke='#cf6f6f' stroke-width='0.45' opacity='0.8'/>
<text x='76.95' y='66.80' font-size='1.7' fill='#cf6f6f' stroke='none' opacity='0.6'>S_25</text>
<circle cx='76.71' cy='60.67' r='1.5' fill='none' stroke='#cf6f6f' stroke-width='0.45' opacity='0.8'/>
<circle cx='72.81' cy='57.49' r='1.5' fill='none' stroke='#cf6f6f' stroke-width='0.45' opacity='0.8'/>
<text x='74.51' y='58.09' font-size='1.7' fill='#cf6f6f' stroke='none' opacity='0.6'>S_80</text>
<circle cx='63.85' cy='64.83' r='1.5' fill='none' stroke='#cf6f6f' stroke-width='0.45' opacity='0.8'/>
<text x='65.55' y='65.43' font-size='1.7' fill='#cf6f6f' stroke='none' opacity='0.6'>S_44</text>
<circle cx='64.5' cy='66.1' r='0.9' fill='#b03030' opacity='0.8'/>
<circle cx='70.1' cy='65.3' r='0.9' fill='#b03030' opacity='0.8'/>
<circle cx='67.5' cy='68.5' r='0.9' fill='#b03030' opacity='0.8'/>
<circle cx='61' cy='67.6' r='0.9' fill='#b03030' opacity='0.8'/>
<circle cx='73' cy='64.2' r='0.9' fill='#b03030' opacity='0.8'/>
<ellipse cx='83' cy='57.5' rx='3.4' ry='2.2' fill='#f2c048' opacity='0.5'/>
<circle cx='27.9' cy='77.4' r='0.9' fill='#7a1f1f'/>
<text x='29.9' y='78.10000000000001' font-size='2.1' fill='#c09090' stroke='#c09090' stroke-width='0.12'>S_21 ..</text>
<circle cx='52.75' cy='79.1' r='0.9' fill='#7a1f1f'/>
<text x='54.75' y='79.8' font-size='2.1' fill='#c09090' stroke='#c09090' stroke-width='0.12'>S_21 ..</text>
<circle cx='84' cy='72.2' r='0.9' fill='#d8b070'/>
<text x='86' y='72.9' font-size='2.1' fill='#c09090' stroke='#c09090' stroke-width='0.12'>S_21 ..</text>
<circle cx='103.7' cy='123.6' r='0.9' fill='#e0c090'/>
<text x='105.7' y='124.3' font-size='2.1' fill='#c09090' stroke='#c09090' stroke-width='0.12'>S_21 ..</text>
</svg>
</body></html>
